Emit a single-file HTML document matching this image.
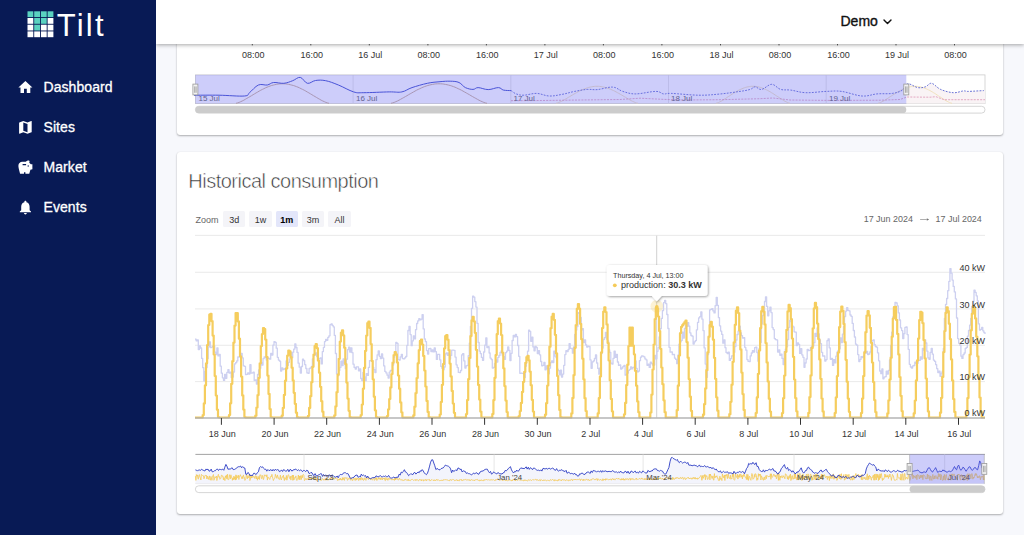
<!DOCTYPE html>
<html lang="en"><head><meta charset="utf-8"><title>Tilt</title>
<style>
*{box-sizing:border-box}
html,body{margin:0;padding:0}
body{width:1024px;height:535px;overflow:hidden;background:#f7f8fc;font-family:"Liberation Sans",sans-serif;position:relative;color:#222}
#sidebar{position:absolute;left:0;top:0;width:156px;height:535px;background:#081a55;color:#fff;z-index:5}
#logo{position:absolute;left:27.4px;top:11.2px}
.nav{position:absolute;left:0;width:156px;height:24px;font-size:14px;line-height:24px}
.nav svg{position:absolute;left:17.2px;top:2.8px;width:16.8px;height:16.8px;fill:#fff}
.nav span{position:absolute;left:43.5px;top:-0.8px;letter-spacing:0.07px;-webkit-text-stroke:0.3px #fff}
#header{position:absolute;left:156px;top:0;width:868px;height:44px;background:#fff;box-shadow:0 1px 4px rgba(0,0,0,.35);z-index:4}
#demo{position:absolute;left:684.5px;top:10px;font-size:14px;line-height:22px;color:#111;-webkit-text-stroke:0.35px #111}
#demo svg{position:absolute;left:42px;top:8.5px}
.card{position:absolute;left:177px;width:826px;background:#fff;border-radius:3px;box-shadow:0 1px 2px rgba(0,0,0,.3),0 0 1px rgba(0,0,0,.1)}
#c1{top:-20px;height:155px}
#c2{top:152px;height:362px}
#title{position:absolute;left:188.3px;top:167.8px;font-size:20px;line-height:26px;letter-spacing:-0.5px;color:#333;-webkit-text-stroke:0.55px #fff;z-index:2}
#ch{position:absolute;left:0;top:0;z-index:2}
#zoom{position:absolute;left:195.5px;top:211px;height:15.5px;font-size:9px;line-height:18.3px;color:#666;z-index:3}
.zb{position:absolute;top:0;width:22.4px;height:15.5px;line-height:18.3px;background:#f4f4f8;border-radius:1.6px;text-align:center;color:#333}
.zb.on{background:#e3e6fa;font-weight:bold;color:#000}
#range{position:absolute;top:213px;left:863.7px;font-size:8.95px;line-height:12px;color:#666;z-index:3;white-space:nowrap}
</style></head>
<body>
<div id="sidebar">
<svg id="logo" width="80" height="30" viewBox="0 0 80 30">
<g fill="#fff">
<rect x="0.5" y="0.3" width="5.8" height="5.8" fill="#5ad2c0"/><rect x="7.2" y="0.3" width="5.8" height="5.8" fill="#5ad2c0"/><rect x="13.9" y="0.3" width="5.8" height="5.8" fill="#5ad2c0"/><rect x="20.6" y="0.3" width="5.8" height="5.8" fill="#5ad2c0"/>
<rect x="0.5" y="7" width="5.8" height="5.8"/><rect x="7.2" y="7" width="5.8" height="5.8" fill="#5ad2c0"/><rect x="13.9" y="7" width="5.8" height="5.8" fill="#5ad2c0"/><rect x="20.6" y="7" width="5.8" height="5.8"/>
<rect x="0.5" y="13.7" width="5.8" height="5.8"/><rect x="7.2" y="13.7" width="5.8" height="5.8" fill="#5ad2c0"/><rect x="13.9" y="13.7" width="5.8" height="5.8"/><rect x="20.6" y="13.7" width="5.8" height="5.8"/>
<rect x="0.5" y="20.4" width="5.8" height="5.8"/><rect x="7.2" y="20.4" width="5.8" height="5.8"/><rect x="13.9" y="20.4" width="5.8" height="5.8"/><rect x="20.6" y="20.4" width="5.8" height="5.8"/>
</g>
<text x="29.8" y="24.7" font-family="Liberation Sans, sans-serif" font-size="31" fill="#fff" letter-spacing="2.2">Tilt</text>
</svg>
<div class="nav" style="top:76px"><svg viewBox="0 0 24 24"><path d="M10 20v-6h4v6h5v-8h3L12 3 2 12h3v8z"/></svg><span>Dashboard</span></div>
<div class="nav" style="top:116px"><svg viewBox="0 0 24 24"><path d="M20.500 3l-.160.030L15 5.100 9 3 3.360 4.900c-.210.070-.360.250-.360.480V20.500c0 .280.220.500.500.500l.160-.030L9 18.900l6 2.100 5.640-1.900c.210-.070.360-.250.360-.480V3.500c0-.280-.220-.500-.500-.500zM15 19l-6-2.110V5l6 2.110V19z"/></svg><span>Sites</span></div>
<div class="nav" style="top:156px"><svg viewBox="0 0 24 24"><path d="M19.830 7.500l-2.270-2.270c.070-.420.180-.810.320-1.150C17.960 3.900 18 3.710 18 3.500 18 2.670 17.330 2 16.500 2c-1.640 0-3.090.790-4 2H7.500C4.460 4 2 6.460 2 9.500S4.500 21 4.500 21H10v-2h2v2h5.500l1.680-5.590L22 14.470V7.500h-2.170zM13 9H8V7h5v2zm3 2c-.550 0-1-.450-1-1s.450-1 1-1 1 .450 1 1-.450 1-1 1z"/></svg><span>Market</span></div>
<div class="nav" style="top:196px"><svg viewBox="0 0 24 24"><path d="M12 22c1.100 0 2-.900 2-2h-4c0 1.100.890 2 2 2zm6-6v-5c0-3.070-1.640-5.640-4.500-6.320V4c0-.830-.670-1.500-1.500-1.500s-1.500.670-1.500 1.500v.680C7.630 5.360 6 7.920 6 11v5l-2 2v1h16v-1l-2-2z"/></svg><span>Events</span></div>
</div>
<div id="header"><div id="demo">Demo<svg width="9" height="6" viewBox="0 0 9 6"><path d="M1 1 4.500 4.600 8 1" fill="none" stroke="#111" stroke-width="1.4" stroke-linecap="round" stroke-linejoin="round"/></svg></div></div>
<div class="card" id="c1"></div>
<div class="card" id="c2"></div>
<div id="title">Historical consumption</div>
<div id="zoom">Zoom<span class="zb" style="left:27.5px">3d</span><span class="zb" style="left:53.8px">1w</span><span class="zb on" style="left:80px">1m</span><span class="zb" style="left:106.4px">3m</span><span class="zb" style="left:132.7px">All</span></div>
<div id="range"><span style="position:absolute;left:0">17 Jun 2024</span><span style="position:absolute;left:53.2px;top:-0.8px;display:inline-block;transform:scaleX(1.7);transform-origin:0 50%">→</span><span style="position:absolute;left:71.9px">17 Jul 2024</span></div>
<svg id="ch" width="1024" height="535" viewBox="0 0 1024 535" font-family="Liberation Sans, sans-serif" font-size="9" fill="#333">
<g><path d="M252.3 40V45.4" stroke="#333" stroke-width="0.8"/><text x="253.2" y="57.6" text-anchor="middle">08:00</text><path d="M310.8 40V45.4" stroke="#333" stroke-width="0.8"/><text x="311.7" y="57.6" text-anchor="middle">16:00</text><path d="M369.3 40V45.4" stroke="#333" stroke-width="0.8"/><text x="370.2" y="57.6" text-anchor="middle">16 Jul</text><path d="M427.9 40V45.4" stroke="#333" stroke-width="0.8"/><text x="428.8" y="57.6" text-anchor="middle">08:00</text><path d="M486.4 40V45.4" stroke="#333" stroke-width="0.8"/><text x="487.3" y="57.6" text-anchor="middle">16:00</text><path d="M544.9 40V45.4" stroke="#333" stroke-width="0.8"/><text x="545.8" y="57.6" text-anchor="middle">17 Jul</text><path d="M603.4 40V45.4" stroke="#333" stroke-width="0.8"/><text x="604.3" y="57.6" text-anchor="middle">08:00</text><path d="M661.9 40V45.4" stroke="#333" stroke-width="0.8"/><text x="662.8" y="57.6" text-anchor="middle">16:00</text><path d="M720.5 40V45.4" stroke="#333" stroke-width="0.8"/><text x="721.4" y="57.6" text-anchor="middle">18 Jul</text><path d="M779.0 40V45.4" stroke="#333" stroke-width="0.8"/><text x="779.9" y="57.6" text-anchor="middle">08:00</text><path d="M837.5 40V45.4" stroke="#333" stroke-width="0.8"/><text x="838.4" y="57.6" text-anchor="middle">16:00</text><path d="M896.0 40V45.4" stroke="#333" stroke-width="0.8"/><text x="896.9" y="57.6" text-anchor="middle">19 Jul</text><path d="M954.5 40V45.4" stroke="#333" stroke-width="0.8"/><text x="955.4" y="57.6" text-anchor="middle">08:00</text></g>
<g>
<rect x="195.4" y="74.9" width="789.6" height="28.7" fill="#fff" stroke="#ccc" stroke-width="0.8"/>
<path d="M906.3 103.6L906.3 84.5L907.6 83.8L917.8 87.6L925.4 86.8L931.7 83.3L940.6 89.4L953.3 92.7L963.5 90.9L968.5 91.4L983.8 90.6L985.0 90.6L985.0 103.6Z" fill="#f9f3f5"/>
<path d="M353.1 75V103.6M510.8 75V103.6M668.5 75V103.6M826.2 75V103.6" stroke="#e0e0e0" stroke-width="0.8"/>
<path d="M236.0 103.3L237.6 102.9L239.1 102.4L240.7 101.7L242.2 101.0L243.8 100.2L245.3 99.3L246.8 98.4L248.4 97.5L249.9 96.6L251.5 95.7L253.1 94.7L254.6 93.8L256.1 92.9L257.7 92.0L259.2 91.1L260.8 90.2L262.4 89.4L263.9 88.7L265.4 87.9L267.0 87.2L268.6 86.6L270.1 86.0L271.6 85.5L273.2 85.1L274.8 84.7L276.3 84.4L277.9 84.1L279.4 83.9L280.9 83.8L282.5 83.8L284.1 83.8L285.6 83.9L287.1 84.1L288.7 84.4L290.2 84.7L291.8 85.1L293.4 85.5L294.9 86.0L296.4 86.6L298.0 87.2L299.6 87.9L301.1 88.7L302.6 89.4L304.2 90.2L305.8 91.1L307.3 92.0L308.9 92.9L310.4 93.8L311.9 94.7L313.5 95.7L315.1 96.6L316.6 97.5L318.1 98.4L319.7 99.3L321.2 100.2L322.8 101.0L324.4 101.7L325.9 102.4L327.4 102.9L329.0 103.3M391.0 103.3L392.6 102.9L394.2 102.4L395.8 101.7L397.4 101.0L399.0 100.2L400.6 99.3L402.2 98.4L403.8 97.5L405.4 96.6L407.0 95.7L408.6 94.7L410.2 93.8L411.8 92.9L413.4 92.0L415.0 91.1L416.6 90.2L418.2 89.4L419.8 88.7L421.4 87.9L423.0 87.2L424.6 86.6L426.2 86.0L427.8 85.5L429.4 85.1L431.0 84.7L432.6 84.4L434.2 84.1L435.8 83.9L437.4 83.8L439.0 83.8L440.6 83.8L442.2 83.9L443.8 84.1L445.4 84.4L447.0 84.7L448.6 85.1L450.2 85.5L451.8 86.0L453.4 86.6L455.0 87.2L456.6 87.9L458.2 88.7L459.8 89.4L461.4 90.2L463.0 91.1L464.6 92.0L466.2 92.9L467.8 93.8L469.4 94.7L471.0 95.7L472.6 96.6L474.2 97.5L475.8 98.4L477.4 99.3L479.0 100.2L480.6 101.0L482.2 101.7L483.8 102.4L485.4 102.9L487.0 103.3" fill="none" stroke="#c2a48a" stroke-width="0.9"/>
<path d="M556.0 103.3L557.4 103.0L558.7 102.5L560.1 101.9L561.5 101.3L562.8 100.6L564.2 99.8L565.6 99.0L566.9 98.3L568.3 97.4L569.7 96.6L571.0 95.8L572.4 95.0L573.8 94.2L575.1 93.4L576.5 92.7L577.9 91.9L579.2 91.2L580.6 90.5L582.0 89.9L583.3 89.3L584.7 88.8L586.1 88.3L587.4 87.8L588.8 87.4L590.2 87.1L591.5 86.8L592.9 86.6L594.3 86.4L595.6 86.3L597.0 86.3L598.4 86.3L599.7 86.4L601.1 86.6L602.5 86.8L603.8 87.1L605.2 87.4L606.6 87.8L607.9 88.3L609.3 88.8L610.7 89.3L612.0 89.9L613.4 90.5L614.8 91.2L616.1 91.9L617.5 92.7L618.9 93.4L620.2 94.2L621.6 95.0L623.0 95.8L624.3 96.6L625.7 97.4L627.1 98.3L628.4 99.0L629.8 99.8L631.2 100.6L632.5 101.3L633.9 101.9L635.3 102.5L636.6 103.0L638.0 103.3M716.0 103.3L717.2 103.0L718.5 102.5L719.7 101.9L720.9 101.3L722.2 100.6L723.4 99.8L724.6 99.0L725.9 98.3L727.1 97.4L728.3 96.6L729.6 95.8L730.8 95.0L732.0 94.2L733.3 93.4L734.5 92.7L735.7 91.9L737.0 91.2L738.2 90.5L739.4 89.9L740.7 89.3L741.9 88.8L743.1 88.3L744.4 87.8L745.6 87.4L746.8 87.1L748.1 86.8L749.3 86.6L750.5 86.4L751.8 86.3L753.0 86.3L754.2 86.3L755.5 86.4L756.7 86.6L757.9 86.8L759.2 87.1L760.4 87.4L761.6 87.8L762.9 88.3L764.1 88.8L765.3 89.3L766.6 89.9L767.8 90.5L769.0 91.2L770.3 91.9L771.5 92.7L772.7 93.4L774.0 94.2L775.2 95.0L776.4 95.8L777.7 96.6L778.9 97.4L780.1 98.3L781.4 99.0L782.6 99.8L783.8 100.6L785.1 101.3L786.3 101.9L787.5 102.5L788.8 103.0L790.0 103.3M878.0 103.3L879.2 103.0L880.5 102.5L881.7 101.9L882.9 101.3L884.2 100.6L885.4 99.8L886.6 99.0L887.9 98.3L889.1 97.4L890.3 96.6L891.6 95.8L892.8 95.0L894.0 94.2L895.3 93.4L896.5 92.7L897.7 91.9L899.0 91.2L900.2 90.5L901.4 89.9L902.7 89.3L903.9 88.8L905.1 88.3L906.4 87.8L907.6 87.4L908.8 87.1L910.1 86.8L911.3 86.6L912.5 86.4L913.8 86.3L915.0 86.3L916.2 86.3L917.5 86.4L918.7 86.6L919.9 86.8L921.2 87.1L922.4 87.4L923.6 87.8L924.9 88.3L926.1 88.8L927.3 89.3L928.6 89.9L929.8 90.5L931.0 91.2L932.3 91.9L933.5 92.7L934.7 93.4L936.0 94.2L937.2 95.0L938.4 95.8L939.7 96.6L940.9 97.4L942.1 98.3L943.4 99.0L944.6 99.8L945.8 100.6L947.1 101.3L948.3 101.9L949.5 102.5L950.8 103.0L952.0 103.3" fill="none" stroke="#efe0b8" stroke-width="0.9"/>
<path d="M511.0 100.7L540.0 100.5L580.0 100.0L620.0 99.5L640.0 98.2L660.0 99.2L680.0 100.0L720.0 99.7L760.0 98.7L773.0 98.0L790.0 100.0L830.0 100.4L880.0 100.2L900.0 99.5L907.0 97.0L930.0 97.2L936.0 96.7L944.0 99.7L985.0 99.7" fill="none" stroke="#d886ac" stroke-width="0.7" stroke-dasharray="2 1.2"/>
<path d="M195.4 95.2C195.5 95.2 192.0 95.2 196.2 95.2C200.4 95.2 210.3 95.1 219.0 95.2C227.7 95.3 238.9 96.5 244.4 96.0C249.9 95.5 247.0 94.7 249.5 92.7C252.0 90.7 255.2 86.4 258.4 85.0C261.6 83.6 264.6 85.5 267.3 85.0C270.0 84.5 270.6 82.8 273.6 82.5C276.6 82.2 280.4 83.6 283.8 83.3C287.2 83.0 289.7 81.8 292.7 80.7C295.7 79.6 297.7 76.9 300.3 77.4C302.9 77.9 304.7 82.7 307.4 83.3C310.1 83.9 312.2 81.0 315.5 80.5C318.8 80.0 321.6 79.9 325.7 80.7C329.8 81.5 333.4 83.0 338.4 85.0C343.4 87.0 349.0 90.5 353.6 91.9C358.2 93.3 357.4 92.7 363.8 92.7C370.2 92.7 382.3 92.0 389.2 91.9C396.1 91.8 397.8 92.7 401.9 91.9C406.0 91.1 407.4 89.1 412.0 87.6C416.6 86.1 422.3 84.4 427.3 83.3C432.3 82.2 435.9 82.1 440.0 81.7C444.1 81.3 446.8 81.1 450.2 81.2C453.6 81.3 456.3 81.3 459.0 82.5C461.7 83.7 462.9 86.4 465.4 87.6C467.9 88.8 470.7 89.4 473.0 89.4C475.3 89.4 475.4 87.6 478.1 87.6C480.8 87.6 484.5 89.6 488.2 89.6C491.9 89.6 495.6 87.5 498.4 87.6C501.2 87.7 501.2 89.6 503.5 90.1C505.8 90.6 509.7 90.5 511.1 90.6" fill="none" stroke="#3b4acb" stroke-width="1"/>
<path d="M511.1 90.6C512.0 91.2 513.9 93.1 516.2 93.9C518.5 94.7 520.1 95.3 523.8 95.2C527.5 95.1 531.9 93.3 536.5 93.4C541.1 93.5 544.6 95.8 549.2 96.0C553.8 96.2 557.3 95.2 561.9 94.4C566.5 93.6 570.0 92.3 574.6 91.4C579.2 90.5 583.2 89.7 587.3 89.4C591.4 89.1 592.8 90.0 597.4 89.6C602.0 89.2 608.1 86.8 612.7 87.1C617.3 87.4 618.7 90.2 622.8 91.4C626.9 92.6 629.6 93.9 635.5 93.9C641.4 93.9 650.8 91.4 655.8 91.4C660.8 91.4 660.7 93.5 663.5 93.9C666.3 94.3 664.7 93.2 671.1 93.4C677.5 93.6 690.2 95.1 699.0 95.2C707.8 95.3 712.6 94.7 720.0 94.0C727.4 93.3 734.6 92.2 740.0 91.4C745.4 90.6 747.5 90.2 750.2 89.4C752.9 88.6 753.1 86.8 755.2 86.8C757.3 86.8 758.6 89.9 761.6 89.4C764.6 89.0 768.3 84.3 771.7 84.3C775.1 84.3 777.2 88.4 780.6 89.4C784.0 90.4 786.2 89.5 790.8 90.1C795.4 90.7 799.6 92.5 806.0 92.7C812.4 92.9 819.9 91.6 826.3 91.4C832.7 91.2 835.2 90.6 841.6 91.4C848.0 92.2 855.5 95.5 861.9 96.0C868.3 96.5 871.6 94.4 877.1 93.9C882.6 93.4 887.8 94.1 892.4 93.4C897.0 92.7 899.8 91.8 902.5 90.1C905.2 88.4 904.8 84.2 907.6 83.8C910.4 83.3 914.6 87.1 917.8 87.6C921.0 88.1 922.9 87.6 925.4 86.8C927.9 86.0 929.0 82.8 931.7 83.3C934.4 83.8 936.7 87.7 940.6 89.4C944.5 91.1 949.2 92.4 953.3 92.7C957.4 93.0 960.8 91.1 963.5 90.9C966.2 90.7 964.8 91.5 968.5 91.4C972.2 91.3 981.0 90.7 983.8 90.6" fill="none" stroke="#3b4acb" stroke-width="0.85" stroke-dasharray="1.8 1.3" opacity="0.9"/>
<g font-size="8" fill="#5c5c5c"><text x="198.5" y="100.8">15 Jul</text><text x="356" y="100.8">16 Jul</text><text x="513.5" y="100.8">17 Jul</text><text x="671" y="100.8">18 Jul</text><text x="829" y="100.8">19 Jul</text></g>
<rect x="195.4" y="74.9" width="710.9" height="28.7" fill="rgba(102,102,240,0.33)"/>
<rect x="192.9" y="84.1" width="5" height="10.8" fill="#f2f2f2" stroke="#999" stroke-width="0.8"/><path d="M194.7 86.4v6.4M196.1 86.4v6.4" stroke="#888" stroke-width="0.7"/><rect x="903.8" y="84.1" width="5" height="10.8" fill="#f2f2f2" stroke="#999" stroke-width="0.8"/><path d="M905.6 86.4v6.4M907.0 86.4v6.4" stroke="#888" stroke-width="0.7"/>
<rect x="195.4" y="106.3" width="789.6" height="6.8" rx="3.4" fill="#fff" stroke="#ccc" stroke-width="0.8"/>
<rect x="195.4" y="106.3" width="710.9" height="6.8" rx="3.4" fill="#ccc"/>
</g>
<g>
<path d="M195 235.4H985" stroke="#e4e4e4" stroke-width="0.8"/><path d="M195 272.3H985" stroke="#e4e4e4" stroke-width="0.8"/><path d="M195 308.9H985" stroke="#e4e4e4" stroke-width="0.8"/><path d="M195 345.3H985" stroke="#e4e4e4" stroke-width="0.8"/><path d="M195 381.6H985" stroke="#e4e4e4" stroke-width="0.8"/>
<path d="M656.7 235.7V417.5" stroke="#c4c4c4" stroke-width="0.8"/>
<path d="M195.0 339.2H196.1V340.8H197.2V339.9H198.3V349.5H199.4V346.0H200.5V348.0H201.6V358.4H202.7V367.7H203.8V380.8H204.9V371.4H206.0V367.6H207.1V358.7H208.2V346.9H209.3V341.8H210.4V347.5H211.5V347.1H212.6V346.1H213.7V345.8H214.7V352.1H215.8V354.6H216.9V348.0H218.0V355.9H219.1V354.5H220.2V366.2H221.3V373.2H222.4V377.8H223.5V380.4H224.6V374.5H225.7V378.3H226.8V372.4H227.9V369.7H229.0V373.0H230.1V372.1H231.2V377.5H232.3V377.0H233.4V372.0H234.5V363.9H235.6V362.7H236.7V360.9H237.8V357.0H238.9V356.8H240.0V356.8H241.1V353.4H242.2V357.9H243.3V365.8H244.4V366.3H245.5V374.5H246.6V374.3H247.7V372.8H248.8V374.1H249.9V364.7H251.0V373.2H252.1V372.9H253.2V372.2H254.2V380.4H255.3V379.8H256.4V384.1H257.5V374.5H258.6V370.0H259.7V368.2H260.8V362.5H261.9V365.0H263.0V358.7H264.1V357.0H265.2V357.5H266.3V360.1H267.4V357.9H268.5V358.3H269.6V359.2H270.7V353.4H271.8V355.1H272.9V345.1H274.0V341.6H275.1V342.4H276.2V348.2H277.3V357.3H278.4V360.1H279.5V361.2H280.6V371.1H281.7V367.8H282.8V369.5H283.9V369.0H285.0V368.5H286.1V360.8H287.2V365.4H288.3V362.3H289.4V358.9H290.5V352.3H291.6V357.7H292.7V352.2H293.7V349.2H294.8V344.0H295.9V347.5H297.0V352.4H298.1V363.2H299.2V367.2H300.3V373.0H301.4V366.5H302.5V359.2H303.6V360.6H304.7V364.7H305.8V368.5H306.9V372.9H308.0V373.3H309.1V368.5H310.2V367.8H311.3V366.5H312.4V358.8H313.5V355.5H314.6V355.0H315.7V352.8H316.8V356.7H317.9V359.6H319.0V358.6H320.1V358.0H321.2V363.9H322.3V351.6H323.4V347.3H324.5V341.6H325.6V339.4H326.7V340.3H327.8V337.3H328.9V335.8H330.0V324.7H331.1V323.9H332.2V325.4H333.2V326.8H334.3V335.4H335.4V353.5H336.5V373.9H337.6V375.8H338.7V370.6H339.8V367.4H340.9V361.2H342.0V365.6H343.1V359.0H344.2V363.0H345.3V368.7H346.4V359.2H347.5V349.7H348.6V347.2H349.7V352.1H350.8V347.8H351.9V352.7H353.0V364.2H354.1V367.4H355.2V369.1H356.3V366.8H357.4V366.8H358.5V370.8H359.6V368.8H360.7V378.5H361.8V380.5H362.9V372.4H364.0V377.0H365.1V380.7H366.2V373.7H367.3V375.4H368.4V367.4H369.5V360.6H370.6V360.6H371.7V361.0H372.7V367.4H373.8V369.7H374.9V372.5H376.0V359.7H377.1V354.8H378.2V350.9H379.3V356.3H380.4V358.5H381.5V354.0H382.6V358.1H383.7V365.9H384.8V371.4H385.9V372.9H387.0V375.2H388.1V378.1H389.2V372.1H390.3V370.4H391.4V370.3H392.5V365.0H393.6V357.1H394.7V351.8H395.8V342.3H396.9V343.3H398.0V359.6H399.1V360.1H400.2V356.8H401.3V354.3H402.4V358.6H403.5V358.9H404.6V357.8H405.7V356.5H406.8V345.4H407.9V330.5H409.0V326.4H410.1V334.6H411.2V345.7H412.2V340.9H413.3V335.8H414.4V338.9H415.5V329.7H416.6V323.5H417.7V320.9H418.8V318.7H419.9V319.9H421.0V319.1H422.1V314.6H423.2V328.9H424.3V339.0H425.4V341.7H426.5V350.6H427.6V354.0H428.7V348.6H429.8V348.5H430.9V351.6H432.0V349.8H433.1V351.9H434.2V348.0H435.3V351.7H436.4V359.4H437.5V354.4H438.6V354.4H439.7V359.8H440.8V366.4H441.9V368.3H443.0V369.8H444.1V367.0H445.2V353.9H446.3V353.0H447.4V355.4H448.5V353.0H449.6V359.1H450.6V355.4H451.7V350.1H452.8V350.1H453.9V350.3H455.0V357.1H456.1V364.8H457.2V367.6H458.3V372.4H459.4V372.6H460.5V370.5H461.6V354.8H462.7V353.6H463.8V360.9H464.9V368.0H466.0V365.8H467.1V365.4H468.2V355.7H469.3V343.1H470.4V326.3H471.5V308.3H472.6V296.2H473.7V297.2H474.8V301.7H475.9V307.1H477.0V323.3H478.1V342.5H479.2V351.1H480.3V353.6H481.4V357.4H482.5V360.3H483.6V352.0H484.7V345.1H485.8V337.9H486.9V347.6H488.0V346.7H489.1V353.0H490.1V358.1H491.2V359.5H492.3V368.0H493.4V367.4H494.5V363.4H495.6V360.0H496.7V362.0H497.8V357.4H498.9V355.5H500.0V352.5H501.1V350.8H502.2V355.2H503.3V356.6H504.4V359.3H505.5V352.7H506.6V351.1H507.7V347.0H508.8V350.3H509.9V360.6H511.0V353.3H512.1V340.5H513.2V335.5H514.3V336.9H515.4V334.5H516.5V336.7H517.6V345.5H518.7V356.3H519.8V373.3H520.9V373.2H522.0V373.4H523.1V373.6H524.2V377.5H525.3V366.2H526.4V360.4H527.5V351.2H528.6V330.2H529.6V331.4H530.7V341.3H531.8V337.1H532.9V346.9H534.0V350.8H535.1V346.4H536.2V347.5H537.3V353.5H538.4V350.7H539.5V354.8H540.6V361.5H541.7V365.8H542.8V365.4H543.9V362.4H545.0V369.8H546.1V366.0H547.2V368.7H548.3V373.8H549.4V368.2H550.5V362.7H551.6V361.0H552.7V362.6H553.8V351.2H554.9V356.2H556.0V357.7H557.1V369.1H558.2V370.6H559.3V374.9H560.4V370.1H561.5V377.0H562.6V374.1H563.7V365.3H564.8V354.6H565.9V350.7H567.0V351.6H568.1V349.5H569.1V343.6H570.2V348.3H571.3V348.5H572.4V353.2H573.5V346.9H574.6V334.4H575.7V330.1H576.8V326.6H577.9V312.7H579.0V313.3H580.1V317.4H581.2V329.8H582.3V328.7H583.4V342.5H584.5V339.9H585.6V344.9H586.7V347.1H587.8V346.2H588.9V346.5H590.0V359.9H591.1V368.3H592.2V361.9H593.3V360.9H594.4V358.5H595.5V355.0H596.6V363.0H597.7V368.4H598.8V374.2H599.9V367.8H601.0V353.6H602.1V348.0H603.2V339.5H604.3V337.6H605.4V332.3H606.5V339.2H607.6V340.9H608.6V350.0H609.7V352.3H610.8V363.1H611.9V364.1H613.0V358.4H614.1V351.1H615.2V357.3H616.3V354.5H617.4V362.0H618.5V365.4H619.6V364.9H620.7V369.1H621.8V368.0H622.9V366.3H624.0V365.3H625.1V375.2H626.2V374.4H627.3V373.0H628.4V370.4H629.5V369.4H630.6V366.9H631.7V368.9H632.8V367.4H633.9V367.2H635.0V361.0H636.1V368.3H637.2V371.9H638.3V371.1H639.4V360.7H640.5V357.2H641.6V355.8H642.7V356.2H643.8V356.8H644.9V358.9H646.0V359.8H647.0V365.3H648.1V364.2H649.2V367.4H650.3V362.2H651.4V363.5H652.5V365.0H653.6V365.1H654.7V355.5H655.8V358.8H656.9V351.3H658.0V347.6H659.1V337.0H660.2V328.7H661.3V318.4H662.4V310.7H663.5V302.7H664.6V300.4H665.7V303.7H666.8V314.5H667.9V328.5H669.0V347.3H670.1V352.2H671.2V351.8H672.3V354.7H673.4V354.4H674.5V358.2H675.6V359.4H676.7V363.7H677.8V355.2H678.9V344.2H680.0V341.9H681.1V340.4H682.2V332.2H683.3V338.0H684.4V328.4H685.5V325.0H686.5V326.4H687.6V322.6H688.7V326.2H689.8V332.8H690.9V335.5H692.0V336.2H693.1V344.0H694.2V341.8H695.3V340.6H696.4V329.8H697.5V322.4H698.6V317.9H699.7V316.7H700.8V311.9H701.9V319.2H703.0V330.6H704.1V347.9H705.2V364.1H706.3V377.3H707.4V354.7H708.5V336.5H709.6V309.8H710.7V309.3H711.8V308.6H712.9V310.9H714.0V312.9H715.1V305.7H716.2V297.4H717.3V305.3H718.4V317.7H719.5V325.8H720.6V331.1H721.7V334.4H722.8V343.2H723.9V340.0H725.0V347.7H726.0V352.4H727.1V353.6H728.2V352.2H729.3V360.4H730.4V358.7H731.5V355.9H732.6V355.8H733.7V352.2H734.8V346.6H735.9V340.0H737.0V334.5H738.1V331.1H739.2V326.1H740.3V332.8H741.4V335.6H742.5V338.0H743.6V337.7H744.7V347.3H745.8V350.2H746.9V359.6H748.0V361.3H749.1V361.5H750.2V355.9H751.3V353.0H752.4V350.6H753.5V352.0H754.6V347.6H755.7V347.1H756.8V352.5H757.9V361.2H759.0V348.4H760.1V342.5H761.2V324.1H762.3V315.7H763.4V310.6H764.5V301.5H765.5V296.8H766.6V306.4H767.7V315.8H768.8V310.8H769.9V307.1H771.0V312.6H772.1V327.6H773.2V329.6H774.3V338.6H775.4V339.7H776.5V339.9H777.6V352.0H778.7V349.8H779.8V355.3H780.9V354.2H782.0V358.4H783.1V364.5H784.2V351.7H785.3V349.1H786.4V346.8H787.5V339.5H788.6V327.3H789.7V320.2H790.8V321.5H791.9V325.9H793.0V326.9H794.1V331.8H795.2V332.2H796.3V345.6H797.4V342.8H798.5V344.3H799.6V353.4H800.7V348.7H801.8V354.9H802.9V357.3H804.0V367.3H805.0V363.0H806.1V359.0H807.2V349.3H808.3V350.5H809.4V350.4H810.5V347.5H811.6V346.5H812.7V345.9H813.8V342.7H814.9V333.3H816.0V336.3H817.1V327.9H818.2V333.8H819.3V339.8H820.4V343.6H821.5V352.3H822.6V356.0H823.7V355.8H824.8V361.1H825.9V359.6H827.0V340.6H828.1V338.8H829.2V347.8H830.3V359.3H831.4V358.4H832.5V365.4H833.6V359.6H834.7V362.9H835.8V356.2H836.9V352.1H838.0V350.4H839.1V348.8H840.2V337.8H841.3V342.6H842.4V334.1H843.5V326.5H844.5V316.5H845.6V311.1H846.7V307.6H847.8V310.4H848.9V310.8H850.0V315.0H851.1V316.4H852.2V323.4H853.3V330.5H854.4V337.0H855.5V344.2H856.6V345.2H857.7V354.6H858.8V361.6H859.9V359.4H861.0V356.6H862.1V357.5H863.2V356.1H864.3V351.4H865.4V353.1H866.5V351.5H867.6V354.6H868.7V354.0H869.8V352.0H870.9V346.3H872.0V340.6H873.1V339.8H874.2V344.7H875.3V346.5H876.4V347.2H877.5V352.8H878.6V360.8H879.7V371.0H880.8V373.7H881.9V369.0H882.9V378.8H884.0V377.1H885.1V376.7H886.2V371.2H887.3V374.1H888.4V370.3H889.5V359.9H890.6V345.5H891.7V332.1H892.8V316.9H893.9V308.8H895.0V302.3H896.1V303.0H897.2V305.9H898.3V312.8H899.4V320.0H900.5V327.8H901.6V330.6H902.7V338.6H903.8V333.7H904.9V327.4H906.0V327.0H907.1V334.6H908.2V349.3H909.3V364.3H910.4V367.0H911.5V368.0H912.6V365.9H913.7V365.5H914.8V362.2H915.9V363.4H917.0V363.3H918.1V360.1H919.2V360.4H920.3V356.9H921.4V359.1H922.4V348.4H923.5V350.0H924.6V339.8H925.7V343.0H926.8V351.2H927.9V357.9H929.0V359.3H930.1V352.4H931.2V348.5H932.3V354.2H933.4V360.1H934.5V361.3H935.6V364.7H936.7V368.7H937.8V372.5H938.9V371.1H940.0V376.3H941.1V373.1H942.2V371.2H943.3V348.4H944.4V318.4H945.5V304.4H946.6V298.5H947.7V290.7H948.8V281.4H949.9V268.6H951.0V273.2H952.1V280.1H953.2V286.4H954.3V291.9H955.4V298.9H956.5V318.0H957.6V338.6H958.7V343.3H959.8V345.2H960.9V356.2H961.9V358.4H963.0V354.7H964.1V353.0H965.2V348.3H966.3V347.4H967.4V336.2H968.5V330.5H969.6V325.1H970.7V318.3H971.8V306.4H972.9V301.2H974.0V290.1H975.1V292.4H976.2V295.8H977.3V300.9H978.4V323.9H979.5V330.1H980.6V329.4H981.7V327.4H982.8V330.8H983.9V332.7H985.0V334.1H985.0" fill="none" stroke="#cdd0f0" stroke-width="1.3" stroke-linejoin="round"/>
<path d="M195.0 417.5H196.1V417.5H197.2V417.5H198.3V417.5H199.4V417.5H200.5V417.5H201.6V417.5H202.7V415.1H203.8V403.4H204.9V385.3H206.0V363.3H207.1V345.1H208.2V325.0H209.3V314.7H210.4V313.8H211.5V321.2H212.6V335.6H213.7V354.5H214.7V376.0H215.8V395.5H216.9V409.7H218.0V417.0H219.1V417.5H220.2V417.5H221.3V417.5H222.4V417.5H223.5V417.5H224.6V417.5H225.7V417.5H226.8V417.5H227.9V417.5H229.0V415.0H230.1V403.3H231.2V383.8H232.3V361.2H233.4V342.6H234.5V325.6H235.6V313.0H236.7V313.2H237.8V321.4H238.9V338.7H240.0V356.3H241.1V376.6H242.2V395.4H243.3V409.6H244.4V417.0H245.5V417.5H246.6V417.5H247.7V417.5H248.8V417.5H249.9V417.5H251.0V417.5H252.1V417.5H253.2V417.5H254.2V417.5H255.3V415.7H256.4V407.5H257.5V395.1H258.6V377.8H259.7V363.3H260.8V346.1H261.9V334.0H263.0V328.2H264.1V329.0H265.2V339.6H266.3V356.8H267.4V375.6H268.5V393.9H269.6V409.0H270.7V417.0H271.8V417.5H272.9V417.5H274.0V417.5H275.1V417.5H276.2V417.5H277.3V417.5H278.4V417.5H279.5V417.5H280.6V417.5H281.7V415.7H282.8V407.9H283.9V394.9H285.0V380.7H286.1V368.4H287.2V355.6H288.3V350.5H289.4V351.4H290.5V357.2H291.6V367.7H292.7V380.4H293.7V392.8H294.8V403.8H295.9V412.7H297.0V417.2H298.1V417.5H299.2V417.5H300.3V417.5H301.4V417.5H302.5V417.5H303.6V417.5H304.7V417.5H305.8V417.5H306.9V417.5H308.0V415.8H309.1V407.9H310.2V396.2H311.3V382.2H312.4V366.8H313.5V354.6H314.6V346.1H315.7V344.1H316.8V348.2H317.9V360.6H319.0V372.7H320.1V386.8H321.2V401.2H322.3V411.7H323.4V417.2H324.5V417.5H325.6V417.5H326.7V417.5H327.8V417.5H328.9V417.5H330.0V417.5H331.1V417.5H332.2V417.5H333.2V417.5H334.3V415.3H335.4V406.3H336.5V392.2H337.6V374.7H338.7V358.8H339.8V341.6H340.9V332.5H342.0V330.4H343.1V335.4H344.2V347.7H345.3V364.2H346.4V382.6H347.5V398.6H348.6V410.8H349.7V417.1H350.8V417.5H351.9V417.5H353.0V417.5H354.1V417.5H355.2V417.5H356.3V417.5H357.4V417.5H358.5V417.5H359.6V417.5H360.7V415.0H361.8V404.5H362.9V388.7H364.0V367.9H365.1V350.8H366.2V335.5H367.3V323.0H368.4V321.5H369.5V327.9H370.6V344.0H371.7V360.9H372.7V379.3H373.8V396.7H374.9V410.3H376.0V417.1H377.1V417.5H378.2V417.5H379.3V417.5H380.4V417.5H381.5V417.5H382.6V417.5H383.7V417.5H384.8V417.5H385.9V417.5H387.0V416.0H388.1V409.3H389.2V399.0H390.3V387.4H391.4V374.0H392.5V362.7H393.6V355.0H394.7V352.0H395.8V354.4H396.9V362.4H398.0V375.5H399.1V388.7H400.2V402.4H401.3V412.3H402.4V417.3H403.5V417.5H404.6V417.5H405.7V417.5H406.8V417.5H407.9V417.5H409.0V417.5H410.1V417.5H411.2V417.5H412.2V417.5H413.3V415.4H414.4V406.7H415.5V393.1H416.6V378.0H417.7V363.3H418.8V350.1H419.9V340.9H421.0V339.6H422.1V344.6H423.2V355.9H424.3V370.5H425.4V386.5H426.5V400.9H427.6V411.9H428.7V417.2H429.8V417.5H430.9V417.5H432.0V417.5H433.1V417.5H434.2V417.5H435.3V417.5H436.4V417.5H437.5V417.5H438.6V417.5H439.7V414.5H440.8V402.0H441.9V384.8H443.0V364.1H444.1V348.3H445.2V336.2H446.3V335.1H447.4V339.7H448.5V350.2H449.6V363.6H450.6V376.4H451.7V390.9H452.8V403.5H453.9V412.8H455.0V417.3H456.1V417.5H457.2V417.5H458.3V417.5H459.4V417.5H460.5V417.5H461.6V417.5H462.7V417.5H463.8V417.5H464.9V417.5H466.0V414.0H467.1V400.0H468.2V379.2H469.3V357.9H470.4V336.1H471.5V320.4H472.6V316.8H473.7V321.3H474.8V332.8H475.9V349.8H477.0V366.6H478.1V384.9H479.2V399.6H480.3V411.6H481.4V417.3H482.5V417.5H483.6V417.5H484.7V417.5H485.8V417.5H486.9V417.5H488.0V417.5H489.1V417.5H490.1V417.5H491.2V417.5H492.3V414.0H493.4V400.1H494.5V377.8H495.6V355.0H496.7V334.2H497.8V321.0H498.9V318.5H500.0V323.5H501.1V335.0H502.2V352.6H503.3V368.3H504.4V386.1H505.5V400.6H506.6V412.0H507.7V417.3H508.8V417.5H509.9V417.5H511.0V417.5H512.1V417.5H513.2V417.5H514.3V417.5H515.4V417.5H516.5V417.5H517.6V417.5H518.7V416.2H519.8V411.0H520.9V402.9H522.0V391.9H523.1V381.8H524.2V371.9H525.3V362.8H526.4V357.1H527.5V355.8H528.6V360.3H529.6V371.6H530.7V385.2H531.8V399.8H532.9V411.5H534.0V417.3H535.1V417.5H536.2V417.5H537.3V417.5H538.4V417.5H539.5V417.5H540.6V417.5H541.7V417.5H542.8V417.5H543.9V417.5H545.0V414.7H546.1V403.2H547.2V385.5H548.3V365.6H549.4V346.7H550.5V328.2H551.6V316.7H552.7V313.9H553.8V319.8H554.9V334.8H556.0V353.4H557.1V376.0H558.2V395.2H559.3V409.9H560.4V417.2H561.5V417.5H562.6V417.5H563.7V417.5H564.8V417.5H565.9V417.5H567.0V417.5H568.1V417.5H569.1V417.5H570.2V417.5H571.3V413.4H572.4V397.9H573.5V375.1H574.6V347.8H575.7V325.0H576.8V308.7H577.9V304.1H579.0V308.7H580.1V323.8H581.2V339.2H582.3V358.7H583.4V379.3H584.5V398.2H585.6V411.0H586.7V417.3H587.8V417.5H588.9V417.5H590.0V417.5H591.1V417.5H592.2V417.5H593.3V417.5H594.4V417.5H595.5V417.5H596.6V417.5H597.7V413.4H598.8V398.1H599.9V376.4H601.0V352.4H602.1V328.0H603.2V311.5H604.3V307.3H605.4V312.0H606.5V324.4H607.6V343.0H608.6V360.5H609.7V380.2H610.8V398.9H611.9V411.3H613.0V417.3H614.1V417.5H615.2V417.5H616.3V417.5H617.4V417.5H618.5V417.5H619.6V417.5H620.7V417.5H621.8V417.5H622.9V417.5H624.0V414.3H625.1V402.9H626.2V385.1H627.3V364.7H628.4V346.0H629.5V327.6H630.6V345.6H631.7V327.6H632.8V345.6H633.9V354.3H635.0V370.8H636.1V385.7H637.2V401.4H638.3V412.2H639.4V417.3H640.5V417.5H641.6V417.5H642.7V417.5H643.8V417.5H644.9V417.5H646.0V417.5H647.0V417.5H648.1V417.5H649.2V417.5H650.3V412.5H651.4V394.6H652.5V369.5H653.6V344.5H654.7V319.0H655.8V307.8H656.9V308.4H658.0V316.5H659.1V331.1H660.2V348.8H661.3V367.5H662.4V384.2H663.5V400.3H664.6V412.2H665.7V417.4H666.8V417.5H667.9V417.5H669.0V417.5H670.1V417.5H671.2V417.5H672.3V417.5H673.4V417.5H674.5V417.5H675.6V417.5H676.7V410.2H677.8V385.7H678.9V355.5H680.0V333.0H681.1V326.8H682.2V325.2H683.3V323.7H684.4V322.2H685.5V320.6H686.5V342.1H687.6V357.7H688.7V379.1H689.8V396.7H690.9V410.8H692.0V417.3H693.1V417.5H694.2V417.5H695.3V417.5H696.4V417.5H697.5V417.5H698.6V417.5H699.7V417.5H700.8V417.5H701.9V417.5H703.0V414.7H704.1V404.2H705.2V388.4H706.3V370.2H707.4V352.4H708.5V336.7H709.6V325.0H710.7V321.8H711.8V326.7H712.9V339.7H714.0V357.8H715.1V378.8H716.2V397.3H717.3V410.7H718.4V417.3H719.5V417.5H720.6V417.5H721.7V417.5H722.8V417.5H723.9V417.5H725.0V417.5H726.0V417.5H727.1V417.5H728.2V417.5H729.3V414.2H730.4V401.8H731.5V384.7H732.6V361.8H733.7V342.3H734.8V324.8H735.9V310.6H737.0V307.3H738.1V313.1H739.2V330.5H740.3V349.4H741.4V372.6H742.5V394.1H743.6V409.9H744.7V417.3H745.8V417.5H746.9V417.5H748.0V417.5H749.1V417.5H750.2V417.5H751.3V417.5H752.4V417.5H753.5V417.5H754.6V417.5H755.7V413.0H756.8V397.4H757.9V373.8H759.0V350.4H760.1V328.1H761.2V311.0H762.3V306.9H763.4V311.7H764.5V324.4H765.5V343.1H766.6V362.4H767.7V381.4H768.8V398.7H769.9V411.6H771.0V417.4H772.1V417.5H773.2V417.5H774.3V417.5H775.4V417.5H776.5V417.5H777.6V417.5H778.7V417.5H779.8V417.5H780.9V417.5H782.0V413.1H783.1V398.2H784.2V375.5H785.3V351.8H786.4V329.8H787.5V311.4H788.6V304.9H789.7V308.1H790.8V319.1H791.9V338.5H793.0V356.8H794.1V379.5H795.2V398.0H796.3V411.3H797.4V417.4H798.5V417.5H799.6V417.5H800.7V417.5H801.8V417.5H802.9V417.5H804.0V417.5H805.0V417.5H806.1V417.5H807.2V417.5H808.3V412.9H809.4V397.1H810.5V375.4H811.6V347.9H812.7V328.3H813.8V308.4H814.9V302.9H816.0V307.1H817.1V323.6H818.2V339.1H819.3V359.4H820.4V378.8H821.5V398.5H822.6V411.4H823.7V417.4H824.8V417.5H825.9V417.5H827.0V417.5H828.1V417.5H829.2V417.5H830.3V417.5H831.4V417.5H832.5V417.5H833.6V417.5H834.7V413.0H835.8V397.3H836.9V376.0H838.0V352.4H839.1V327.1H840.2V311.6H841.3V306.6H842.4V310.8H843.5V323.9H844.5V342.1H845.6V359.8H846.7V381.7H847.8V398.6H848.9V411.8H850.0V417.4H851.1V417.5H852.2V417.5H853.3V417.5H854.4V417.5H855.5V417.5H856.6V417.5H857.7V417.5H858.8V417.5H859.9V417.5H861.0V413.0H862.1V398.6H863.2V376.0H864.3V352.3H865.4V332.2H866.5V315.6H867.6V311.0H868.7V315.3H869.8V327.8H870.9V342.8H872.0V362.5H873.1V382.1H874.2V400.1H875.3V412.1H876.4V417.4H877.5V417.5H878.6V417.5H879.7V417.5H880.8V417.5H881.9V417.5H882.9V417.5H884.0V417.5H885.1V417.5H886.2V417.5H887.3V413.4H888.4V400.3H889.5V379.5H890.6V357.7H891.7V336.7H892.8V318.6H893.9V307.2H895.0V306.9H896.1V319.9H897.2V333.9H898.3V354.4H899.4V377.0H900.5V395.8H901.6V411.1H902.7V417.4H903.8V417.5H904.9V417.5H906.0V417.5H907.1V417.5H908.2V417.5H909.3V417.5H910.4V417.5H911.5V417.5H912.6V417.5H913.7V413.4H914.8V400.5H915.9V380.4H917.0V360.4H918.1V338.6H919.2V320.1H920.3V311.8H921.4V312.5H922.4V323.1H923.5V340.1H924.6V358.3H925.7V378.5H926.8V398.1H927.9V411.4H929.0V417.4H930.1V417.5H931.2V417.5H932.3V417.5H933.4V417.5H934.5V417.5H935.6V417.5H936.7V417.5H937.8V417.5H938.9V417.5H940.0V412.7H941.1V397.8H942.2V376.9H943.3V352.1H944.4V331.0H945.5V312.8H946.6V307.3H947.7V311.1H948.8V323.7H949.9V339.1H951.0V359.4H952.1V380.4H953.2V399.1H954.3V411.9H955.4V417.4H956.5V417.5H957.6V417.5H958.7V417.5H959.8V417.5H960.9V417.5H961.9V417.5H963.0V417.5H964.1V417.5H965.2V417.5H966.3V413.0H967.4V398.1H968.5V377.0H969.6V354.6H970.7V330.3H971.8V313.8H972.9V306.2H974.0V308.3H975.1V318.4H976.2V336.6H977.3V356.3H978.4V378.5H979.5V397.5H980.6V411.6H981.7V417.4H982.8V417.5H983.9V417.5H985.0V417.5H985.0" fill="none" stroke="#f5cd5e" stroke-width="2.2" stroke-linejoin="round"/>
<path d="M195 417.9H985" stroke="#adadad" stroke-width="1.5" opacity="0.9"/>
<circle cx="656.8" cy="306.2" r="6.3" fill="#f5cb58" opacity="0.25"/>
<circle cx="656.8" cy="306.8" r="1.8" fill="#f5cb58"/>
<path d="M221.4 418V424.8" stroke="#333" stroke-width="1"/><text x="222.2" y="436.9" text-anchor="middle">18 Jun</text><path d="M274.1 418V424.8" stroke="#333" stroke-width="1"/><text x="274.9" y="436.9" text-anchor="middle">20 Jun</text><path d="M326.7 418V424.8" stroke="#333" stroke-width="1"/><text x="327.5" y="436.9" text-anchor="middle">22 Jun</text><path d="M379.4 418V424.8" stroke="#333" stroke-width="1"/><text x="380.2" y="436.9" text-anchor="middle">24 Jun</text><path d="M432.0 418V424.8" stroke="#333" stroke-width="1"/><text x="432.8" y="436.9" text-anchor="middle">26 Jun</text><path d="M484.6 418V424.8" stroke="#333" stroke-width="1"/><text x="485.4" y="436.9" text-anchor="middle">28 Jun</text><path d="M537.3 418V424.8" stroke="#333" stroke-width="1"/><text x="538.1" y="436.9" text-anchor="middle">30 Jun</text><path d="M590.0 418V424.8" stroke="#333" stroke-width="1"/><text x="590.8" y="436.9" text-anchor="middle">2 Jul</text><path d="M642.6 418V424.8" stroke="#333" stroke-width="1"/><text x="643.4" y="436.9" text-anchor="middle">4 Jul</text><path d="M695.2 418V424.8" stroke="#333" stroke-width="1"/><text x="696.0" y="436.9" text-anchor="middle">6 Jul</text><path d="M747.9 418V424.8" stroke="#333" stroke-width="1"/><text x="748.7" y="436.9" text-anchor="middle">8 Jul</text><path d="M800.5 418V424.8" stroke="#333" stroke-width="1"/><text x="801.3" y="436.9" text-anchor="middle">10 Jul</text><path d="M853.2 418V424.8" stroke="#333" stroke-width="1"/><text x="854.0" y="436.9" text-anchor="middle">12 Jul</text><path d="M905.8 418V424.8" stroke="#333" stroke-width="1"/><text x="906.6" y="436.9" text-anchor="middle">14 Jul</text><path d="M958.5 418V424.8" stroke="#333" stroke-width="1"/><text x="959.3" y="436.9" text-anchor="middle">16 Jul</text>
<text x="985" y="271.0" text-anchor="end">40 kW</text><text x="985" y="307.6" text-anchor="end">30 kW</text><text x="985" y="344.0" text-anchor="end">20 kW</text><text x="985" y="380.3" text-anchor="end">10 kW</text><text x="985" y="416.2" text-anchor="end">0 kW</text>
</g>
<g>
<path d="M195.4 454.4H985" stroke="#999" stroke-width="0.9"/>
<path d="M195.4 483.6H985" stroke="#ddd" stroke-width="0.8"/>
<path d="M304 454.4V483.6M494.1 454.4V483.6M643.1 454.4V483.6M794 454.4V483.6M944.7 454.4V483.6" stroke="#e0e0e0" stroke-width="0.8"/>
<path d="M195.4 483.6L195.4 469.9L196.5 470.1L197.5 471.1L198.6 469.9L199.6 470.0L200.7 470.3L201.7 469.2L202.8 470.1L203.8 470.5L204.9 471.0L205.9 469.1L207.0 469.7L208.0 469.1L209.1 471.2L210.1 470.9L211.2 469.1L212.2 471.8L213.3 471.7L214.3 470.8L215.4 470.7L216.4 469.4L217.5 469.0L218.5 470.5L219.6 469.2L220.6 469.5L221.7 469.7L222.7 469.1L223.8 470.3L224.8 467.2L225.9 464.4L226.9 466.1L228.0 469.3L229.0 468.9L230.1 469.2L231.1 468.4L232.2 467.8L233.2 469.6L234.3 469.5L235.3 468.9L236.4 468.4L237.4 467.1L238.5 466.7L239.5 466.7L240.6 466.0L241.6 467.8L242.7 466.6L243.7 467.7L244.8 468.0L245.8 474.2L246.9 474.3L247.9 472.4L249.0 473.4L250.0 475.8L251.1 474.9L252.1 476.0L253.2 474.1L254.2 472.9L255.3 474.2L256.3 474.3L257.4 472.6L258.4 471.8L259.5 467.5L260.5 466.6L261.6 467.3L262.6 466.8L263.7 468.4L264.7 469.3L265.8 469.2L266.8 471.2L267.9 469.5L268.9 470.6L270.0 470.3L271.0 469.5L272.1 471.0L273.1 469.4L274.2 470.8L275.2 469.3L276.3 470.2L277.3 469.6L278.4 469.8L279.4 471.7L280.5 471.2L281.5 469.9L282.6 471.5L283.6 469.6L284.7 470.1L285.7 471.4L286.8 470.8L287.8 469.3L288.9 471.8L289.9 469.6L291.0 469.7L292.0 471.2L293.1 469.9L294.1 469.8L295.2 469.2L296.2 469.3L297.3 470.6L298.3 469.7L299.4 470.7L300.4 470.0L301.5 470.3L302.5 471.7L303.6 470.4L304.6 470.6L305.7 471.6L306.7 470.2L307.8 470.6L308.8 473.2L309.9 473.5L310.9 472.4L312.0 472.8L313.0 474.9L314.1 475.5L315.1 473.6L316.2 475.8L317.2 475.7L318.3 475.0L319.3 474.6L320.4 473.8L321.4 473.7L322.5 476.4L323.5 474.5L324.6 475.9L325.6 474.8L326.7 476.4L327.7 475.9L328.8 475.2L329.8 474.9L330.9 476.6L331.9 474.9L333.0 475.4L334.0 476.4L335.1 477.4L336.1 476.8L337.2 476.0L338.2 477.8L339.3 475.4L340.3 474.4L341.4 474.6L342.4 474.5L343.5 472.9L344.5 472.7L345.6 472.8L346.6 473.7L347.7 473.4L348.7 475.0L349.8 477.4L350.8 478.7L351.9 477.8L352.9 477.7L354.0 477.2L355.0 475.7L356.1 475.2L357.1 475.0L358.2 477.3L359.2 476.5L360.3 477.0L361.3 474.1L362.4 475.7L363.4 475.0L364.5 476.0L365.5 475.5L366.6 478.0L367.6 476.0L368.7 477.9L369.7 478.5L370.8 478.7L371.8 478.0L372.9 477.6L373.9 477.6L375.0 477.7L376.0 475.8L377.1 476.5L378.1 476.8L379.2 476.6L380.2 475.4L381.3 476.6L382.3 476.9L383.4 476.2L384.4 476.5L385.5 475.9L386.5 476.6L387.6 476.8L388.6 475.4L389.7 477.1L390.7 478.2L391.8 478.0L392.8 477.7L393.9 476.9L394.9 477.9L396.0 477.6L397.0 477.1L398.1 477.3L399.1 474.2L400.2 475.1L401.2 472.1L402.3 472.7L403.3 471.4L404.4 469.7L405.4 472.0L406.5 472.4L407.5 473.8L408.6 475.7L409.6 474.8L410.7 473.7L411.7 474.1L412.8 474.7L413.8 472.9L414.9 472.4L415.9 474.1L417.0 473.0L418.0 471.9L419.1 472.8L420.1 470.8L421.2 471.3L422.2 469.6L423.3 471.0L424.3 472.9L425.4 474.0L426.4 474.7L427.5 473.1L428.5 470.2L429.6 466.1L430.6 462.2L431.7 459.8L432.7 459.8L433.8 463.0L434.8 465.8L435.9 469.6L436.9 468.7L438.0 468.8L439.0 469.9L440.1 469.7L441.1 468.6L442.2 468.2L443.2 467.9L444.3 466.6L445.3 465.1L446.4 465.6L447.4 465.9L448.5 466.3L449.5 467.1L450.6 468.9L451.6 472.7L452.7 470.0L453.7 471.5L454.8 470.8L455.8 469.7L456.9 470.7L457.9 468.1L459.0 468.1L460.0 469.6L461.1 469.0L462.1 471.9L463.2 470.8L464.2 471.2L465.3 471.5L466.3 473.4L467.4 472.9L468.4 473.6L469.5 473.7L470.5 474.3L471.6 474.8L472.6 474.2L473.7 472.9L474.7 473.8L475.8 473.1L476.8 472.7L477.9 474.1L478.9 474.2L480.0 472.0L481.0 471.5L482.1 470.9L483.1 471.2L484.2 469.9L485.2 469.4L486.3 469.2L487.3 469.2L488.4 471.3L489.4 472.7L490.5 471.4L491.5 474.1L492.6 473.5L493.6 471.9L494.7 472.8L495.7 473.3L496.8 474.0L497.8 472.6L498.9 473.1L499.9 474.0L501.0 473.7L502.0 474.1L503.1 472.8L504.1 472.7L505.2 470.4L506.2 470.8L507.3 470.0L508.3 468.5L509.4 467.7L510.4 466.6L511.5 469.9L512.5 471.6L513.6 473.0L514.6 471.4L515.7 471.8L516.7 470.0L517.8 471.3L518.8 470.8L519.9 468.9L520.9 467.8L522.0 468.4L523.0 468.3L524.1 468.7L525.1 468.0L526.2 466.8L527.2 469.1L528.3 467.2L529.3 469.4L530.4 467.7L531.4 468.3L532.5 469.7L533.5 468.0L534.6 468.1L535.6 469.3L536.7 470.0L537.7 470.4L538.8 470.1L539.8 470.9L540.9 469.8L541.9 471.1L543.0 468.4L544.0 468.5L545.1 469.1L546.1 468.2L547.2 469.2L548.2 468.6L549.3 468.1L550.3 469.2L551.4 468.6L552.4 468.1L553.5 468.5L554.5 470.0L555.6 470.3L556.6 468.6L557.7 470.6L558.7 471.1L559.8 470.1L560.8 470.4L561.9 469.6L562.9 470.8L564.0 471.0L565.0 471.6L566.1 470.3L567.1 473.3L568.2 472.3L569.2 472.3L570.3 473.8L571.3 473.4L572.4 473.5L573.4 474.4L574.5 473.0L575.5 474.6L576.6 474.6L577.6 476.2L578.7 475.9L579.7 473.8L580.8 474.1L581.8 472.9L582.9 473.6L583.9 474.4L585.0 474.4L586.0 473.0L587.1 472.3L588.1 471.8L589.2 472.7L590.2 473.4L591.2 470.9L592.3 472.5L593.3 470.4L594.4 470.8L595.4 470.9L596.5 472.2L597.5 471.2L598.6 471.3L599.6 472.0L600.7 470.6L601.7 472.3L602.8 470.6L603.8 471.7L604.9 471.0L605.9 470.9L607.0 471.8L608.0 471.5L609.1 471.4L610.1 471.5L611.2 471.8L612.2 470.7L613.3 470.9L614.3 472.1L615.4 472.1L616.4 471.8L617.5 472.7L618.5 472.0L619.6 472.7L620.6 471.0L621.7 472.5L622.7 472.7L623.8 473.0L624.8 471.4L625.9 471.4L626.9 473.1L628.0 471.2L629.0 473.4L630.1 473.1L631.1 471.0L632.2 471.4L633.2 472.8L634.3 471.5L635.3 471.1L636.4 473.1L637.4 472.0L638.5 473.1L639.5 471.3L640.6 472.1L641.6 472.9L642.7 471.0L643.7 471.4L644.8 472.6L645.8 473.0L646.9 473.0L647.9 470.4L649.0 471.3L650.0 471.8L651.1 470.8L652.1 471.1L653.2 469.5L654.2 469.0L655.3 468.9L656.3 468.8L657.4 470.5L658.4 470.7L659.5 471.2L660.5 470.4L661.6 470.8L662.6 471.2L663.7 473.3L664.7 474.0L665.8 474.1L666.8 472.1L667.9 469.6L668.9 467.6L670.0 461.8L671.0 458.2L672.1 457.3L673.1 458.3L674.2 459.0L675.2 459.4L676.3 460.4L677.3 459.4L678.4 461.9L679.4 462.7L680.5 461.1L681.5 462.1L682.6 463.1L683.6 462.5L684.7 462.1L685.7 462.3L686.8 463.6L687.8 462.4L688.9 465.2L689.9 465.2L691.0 465.1L692.0 465.8L693.1 465.5L694.1 465.0L695.2 465.6L696.2 465.4L697.3 466.8L698.3 466.3L699.4 464.9L700.4 466.7L701.5 466.3L702.5 466.5L703.6 466.6L704.6 465.5L705.7 466.9L706.7 466.9L707.8 466.5L708.8 467.3L709.9 467.8L710.9 467.3L712.0 468.8L713.0 467.5L714.1 468.8L715.1 469.7L716.2 469.0L717.2 470.5L718.3 471.7L719.3 471.8L720.4 470.8L721.4 472.8L722.5 472.2L723.5 471.3L724.6 472.3L725.6 472.2L726.7 472.1L727.7 471.8L728.8 473.6L729.8 472.7L730.9 473.0L731.9 473.2L733.0 473.9L734.0 471.3L735.1 473.1L736.1 473.5L737.2 472.2L738.2 472.5L739.3 471.5L740.3 471.9L741.4 472.3L742.4 471.5L743.5 471.9L744.5 473.7L745.6 471.1L746.6 468.4L747.7 467.1L748.7 463.4L749.8 464.3L750.8 463.5L751.9 464.1L752.9 462.3L754.0 463.9L755.0 464.5L756.1 462.7L757.1 466.5L758.2 466.5L759.2 469.5L760.3 470.8L761.3 471.5L762.4 471.6L763.4 469.8L764.5 472.1L765.5 470.4L766.6 470.5L767.6 470.5L768.7 469.6L769.7 469.2L770.8 470.0L771.8 469.5L772.9 468.5L773.9 470.9L775.0 471.0L776.0 471.6L777.1 473.5L778.1 474.1L779.2 472.2L780.2 471.7L781.3 468.5L782.3 467.7L783.4 465.7L784.4 464.6L785.5 468.1L786.5 468.9L787.6 467.4L788.6 470.5L789.7 469.6L790.7 470.3L791.8 472.2L792.8 470.7L793.9 472.0L794.9 473.7L796.0 473.4L797.0 471.8L798.1 472.3L799.1 470.9L800.2 469.4L801.2 467.8L802.3 471.2L803.3 472.7L804.4 472.6L805.4 470.6L806.5 470.4L807.5 467.8L808.6 467.1L809.6 468.9L810.7 469.5L811.7 470.2L812.8 472.2L813.8 472.6L814.9 473.4L815.9 472.4L817.0 473.5L818.0 473.1L819.1 472.3L820.1 470.6L821.2 470.0L822.2 472.0L823.3 471.4L824.3 470.7L825.4 469.7L826.4 469.4L827.5 471.7L828.5 472.6L829.6 473.8L830.6 475.0L831.7 476.3L832.7 474.9L833.8 475.2L834.8 477.4L835.9 477.4L836.9 477.5L838.0 475.3L839.0 475.5L840.1 476.3L841.1 476.9L842.2 477.6L843.2 476.3L844.3 477.7L845.3 476.6L846.4 476.8L847.4 478.4L848.5 477.9L849.5 478.0L850.6 477.1L851.6 477.2L852.7 476.3L853.7 476.6L854.8 477.5L855.8 477.7L856.9 475.4L857.9 475.3L859.0 477.1L860.0 476.5L861.1 476.7L862.1 475.0L863.2 475.5L864.2 474.8L865.3 473.5L866.3 468.9L867.4 466.3L868.4 464.7L869.5 463.0L870.5 463.8L871.6 464.5L872.6 465.1L873.7 464.5L874.7 466.1L875.8 467.1L876.8 471.0L877.9 469.3L878.9 469.4L880.0 470.8L881.0 470.7L882.1 471.3L883.1 470.4L884.2 471.8L885.2 469.9L886.3 470.4L887.3 471.7L888.4 470.2L889.4 470.9L890.5 472.2L891.5 472.2L892.6 471.1L893.6 470.6L894.7 471.1L895.7 472.0L896.8 470.9L897.8 470.1L898.9 471.6L899.9 471.1L901.0 472.0L902.0 471.9L903.1 471.8L904.1 470.3L905.2 470.9L906.2 470.5L907.3 470.8L908.3 471.2L909.4 472.2L910.4 472.4L911.5 471.5L912.5 471.4L913.6 471.2L914.6 470.9L915.7 470.7L916.7 470.5L917.8 470.0L918.8 471.2L919.9 472.2L920.9 472.5L922.0 472.9L923.0 472.4L924.1 471.7L925.1 472.4L926.2 472.2L927.2 469.9L928.3 468.0L929.3 467.6L930.4 469.4L931.4 471.2L932.5 472.1L933.5 470.4L934.6 469.4L935.6 467.6L936.7 470.2L937.7 472.4L938.8 471.6L939.8 471.1L940.9 471.6L941.9 471.4L943.0 469.8L944.0 471.0L945.1 470.7L946.1 472.0L947.2 472.2L948.2 471.4L949.3 471.1L950.3 471.7L951.4 471.2L952.4 470.6L953.5 468.3L954.5 466.5L955.6 469.0L956.6 469.8L957.7 466.2L958.7 465.1L959.8 468.6L960.8 470.3L961.9 469.3L962.9 467.2L964.0 467.9L965.0 469.6L966.1 471.3L967.1 469.7L968.2 468.2L969.2 466.7L970.3 467.2L971.3 469.5L972.4 470.4L973.4 469.1L974.5 467.6L975.5 467.6L976.6 469.4L977.6 469.8L978.7 465.6L979.7 460.9L980.8 462.8L981.8 467.8L982.9 468.2L983.9 468.0L984.4 483.6Z" fill="#f3f4fc"/>
<path d="M195.4 476.1L195.9 480.4L196.4 474.6L196.9 476.2L197.4 474.9L197.9 478.3L198.4 479.2L198.9 475.3L199.4 474.6L199.9 477.1L200.4 477.9L200.9 480.0L201.4 474.4L201.9 474.9L202.4 475.4L202.9 475.6L203.4 475.7L203.9 478.8L204.4 478.0L204.9 475.6L205.4 475.4L205.9 476.0L206.4 475.3L206.9 479.0L207.4 476.2L207.9 477.7L208.4 479.4L208.9 477.3L209.4 475.9L209.9 479.9L210.4 480.1L210.9 476.4L211.4 477.7L211.9 480.3L212.4 477.3L212.9 475.6L213.4 474.5L213.9 480.3L214.4 479.3L214.9 476.7L215.4 477.6L215.9 477.5L216.4 476.0L216.9 480.5L217.4 478.4L217.9 475.7L218.4 474.3L218.9 477.2L219.4 476.6L219.9 479.3L220.4 478.8L220.9 478.1L221.4 475.2L221.9 475.2L222.4 476.3L222.9 475.9L223.4 479.8L223.9 477.5L224.4 478.3L224.9 480.6L225.4 475.9L225.9 477.6L226.4 475.2L226.9 479.1L227.4 474.2L227.9 479.5L228.4 479.6L228.9 479.5L229.4 474.7L229.9 475.9L230.4 478.8L230.9 474.8L231.4 477.3L231.9 477.2L232.4 480.3L232.9 478.0L233.4 479.7L233.9 476.1L234.4 479.3L234.9 476.9L235.4 480.1L235.9 474.8L236.4 479.5L236.9 475.5L237.4 477.7L237.9 477.6L238.4 475.2L238.9 479.5L239.4 476.2L239.9 476.2L240.4 474.7L240.9 476.2L241.4 477.2L241.9 478.8L242.4 476.5L242.9 478.6L243.4 474.9L243.9 476.7L244.4 477.2L244.9 480.4L245.4 479.5L245.9 478.4L246.4 474.3L246.9 476.6L247.4 478.7L247.9 475.7L248.4 477.8L248.9 477.1L249.4 474.3L249.9 480.5L250.4 479.3L250.9 475.5L251.4 478.1L251.9 476.1L252.4 476.6L252.9 477.7L253.4 476.1L253.9 476.4L254.4 476.7L254.9 478.5L255.4 475.8L255.9 475.5L256.4 478.9L256.9 476.3L257.4 480.2L257.9 477.8L258.4 478.8L258.9 476.3L259.4 479.5L259.9 474.8L260.4 475.1L260.9 474.8L261.4 478.5L261.9 478.7L262.4 475.4L262.9 476.8L263.4 479.6L263.9 478.0L264.4 474.8L264.9 475.7L265.4 475.2L265.9 475.0L266.4 476.8L266.9 474.7L267.4 480.1L267.9 476.9L268.4 477.5L268.9 478.3L269.4 479.1L269.9 479.5L270.4 476.7L270.9 476.3L271.4 476.8L271.9 474.3L272.4 476.8L272.9 478.7L273.4 480.5L273.9 479.3L274.4 478.4L274.9 478.1L275.4 474.3L275.9 476.3L276.4 476.4L276.9 478.4L277.4 474.9L277.9 476.6L278.4 477.5L278.9 479.2L279.4 479.5L279.9 478.1L280.4 475.2L280.9 479.1L281.4 480.0L281.9 477.7L282.4 476.5L282.9 477.4L283.4 475.1L283.9 478.8L284.4 480.5L284.9 477.5L285.4 478.8L285.9 479.5L286.4 475.5L286.9 480.2L287.4 478.2L287.9 475.5L288.4 474.7L288.9 475.8L289.4 477.9L289.9 478.7L290.4 476.3L290.9 480.1L291.4 476.5L291.9 477.2L292.4 475.0L292.9 480.4L293.4 475.1L293.9 480.0L294.4 477.7L294.9 477.8L295.4 477.8L295.9 475.9L296.4 480.0L296.9 480.5L297.4 479.4L297.9 478.0L298.4 475.0L298.9 479.5L299.4 476.0L299.9 479.9L300.4 475.7L300.9 477.9L301.4 479.5L301.9 475.4L302.4 477.7L302.9 474.7L303.4 474.4L303.9 475.4L304.4 480.5L304.9 480.2L305.4 479.5L305.9 478.3L306.4 479.5L306.9 479.7L307.4 478.6L307.9 479.3L308.4 480.0L308.9 477.4L309.4 478.0L309.9 478.8L310.4 477.8L310.9 478.6L311.4 479.2L311.9 477.9L312.4 479.0L312.9 478.2L313.4 479.2L313.9 478.4L314.4 479.4L314.9 477.4L315.4 479.5L315.9 477.8L316.4 480.5L316.9 479.3L317.4 478.9L317.9 478.7L318.4 479.4L318.9 479.6L319.4 479.8L319.9 479.8L320.4 478.9L320.9 480.6L321.4 480.1L321.9 480.1L322.4 478.6L322.9 478.7L323.4 479.2L323.9 480.3L324.4 479.0L324.9 479.0L325.4 478.7L325.9 480.3L326.4 478.4L326.9 477.5L327.4 479.7L327.9 480.3L328.4 479.7L328.9 479.3L329.4 479.8L329.9 478.3L330.4 479.3L330.9 477.5L331.4 477.7L331.9 478.8L332.4 479.0L332.9 478.6L333.4 477.5L333.9 479.6L334.4 479.0L334.9 478.1L335.4 478.3L335.9 478.6L336.4 478.1L336.9 477.5L337.4 480.3L337.9 480.5L338.4 479.5L338.9 480.2L339.4 478.7L339.9 480.0L340.4 478.0L340.9 479.8L341.4 479.2L341.9 480.3L342.4 477.6L342.9 479.9L343.4 477.7L343.9 479.1L344.4 480.4L344.9 477.3L345.4 478.1L345.9 478.3L346.4 478.4L346.9 477.5L347.4 480.3L347.9 480.0L348.4 478.6L348.9 478.5L349.4 479.2L349.9 477.5L350.4 477.4L350.9 480.3L351.4 478.3L351.9 478.9L352.4 480.4L352.9 480.5L353.4 478.9L353.9 478.0L354.4 478.3L354.9 480.3L355.4 480.3L355.9 477.9L356.4 480.1L356.9 478.5L357.4 478.9L357.9 477.9L358.4 480.2L358.9 480.6L359.4 478.0L359.9 479.4L360.4 477.9L360.9 480.2L361.4 477.5L361.9 477.7L362.4 479.7L362.9 478.3L363.4 480.3L363.9 480.2L364.4 479.7L364.9 477.7L365.4 479.6L365.9 480.4L366.4 478.8L366.9 477.6L367.4 478.0L367.9 478.3L368.4 479.6L368.9 477.9L369.4 477.9L369.9 478.1L370.4 479.5L370.9 479.9L371.4 478.5L371.9 479.5L372.4 480.2L372.9 479.2L373.4 478.1L373.9 478.3L374.4 480.4L374.9 479.5L375.4 478.2L375.9 479.4L376.4 477.6L376.9 480.5L377.4 478.8L377.9 479.0L378.4 479.1L378.9 477.4L379.4 479.3L379.9 478.2L380.4 478.1L380.9 480.0L381.4 477.6L381.9 478.2L382.4 479.8L382.9 478.1L383.4 478.2L383.9 479.1L384.4 477.9L384.9 480.3L385.4 480.6L385.9 477.4L386.4 478.8L386.9 479.8L387.4 478.6L387.9 480.4L388.4 478.9L388.9 477.9L389.4 479.1L389.9 479.4L390.4 478.5L390.9 479.5L391.4 479.9L391.9 479.0L392.4 479.0L392.9 480.1L393.4 479.6L393.9 479.0L394.4 480.4L394.9 477.9L395.4 479.9L395.9 477.8L396.4 479.3L396.9 478.1L397.4 478.8L397.9 479.9L398.4 479.9L398.9 479.9L399.4 478.1L399.9 478.9L400.4 479.7L400.9 480.3L401.4 480.1L401.9 479.4L402.4 480.3L402.9 480.5L403.4 480.3L403.9 480.8L404.4 479.6L404.9 479.6L405.4 479.3L405.9 480.1L406.4 480.0L406.9 480.1L407.4 479.7L407.9 480.7L408.4 479.4L408.9 480.8L409.4 480.3L409.9 480.2L410.4 480.6L410.9 479.7L411.4 479.5L411.9 479.8L412.4 479.4L412.9 479.8L413.4 480.4L413.9 480.2L414.4 479.8L414.9 480.3L415.4 479.5L415.9 480.7L416.4 479.6L416.9 479.7L417.4 479.6L417.9 480.5L418.4 480.7L418.9 480.6L419.4 479.4L419.9 480.0L420.4 479.9L420.9 479.7L421.4 480.9L421.9 479.4L422.4 480.1L422.9 480.6L423.4 481.0L423.9 479.5L424.4 480.1L424.9 480.6L425.4 479.4L425.9 479.7L426.4 480.8L426.9 479.5L427.4 480.0L427.9 479.8L428.4 480.0L428.9 479.4L429.4 479.4L429.9 481.0L430.4 480.6L430.9 480.5L431.4 479.7L431.9 479.7L432.4 480.2L432.9 479.7L433.4 480.1L433.9 480.9L434.4 479.9L434.9 479.9L435.4 481.0L435.9 480.3L436.4 479.4L436.9 480.0L437.4 480.4L437.9 479.4L438.4 479.9L438.9 480.5L439.4 480.8L439.9 480.3L440.4 480.8L440.9 480.1L441.4 480.0L441.9 480.7L442.4 479.9L442.9 480.6L443.4 479.7L443.9 479.9L444.4 479.6L444.9 480.2L445.4 479.6L445.9 479.6L446.4 479.7L446.9 480.1L447.4 479.8L447.9 480.1L448.4 481.0L448.9 480.5L449.4 480.8L449.9 479.6L450.4 480.0L450.9 479.4L451.4 480.5L451.9 479.9L452.4 479.8L452.9 479.3L453.4 479.6L453.9 479.7L454.4 480.0L454.9 480.9L455.4 480.5L455.9 479.8L456.4 479.9L456.9 479.6L457.4 480.9L457.9 479.9L458.4 480.6L458.9 480.5L459.4 480.8L459.9 479.3L460.4 479.8L460.9 480.0L461.4 479.4L461.9 480.8L462.4 479.9L462.9 480.6L463.4 480.2L463.9 479.4L464.4 480.0L464.9 479.7L465.4 479.4L465.9 479.6L466.4 480.3L466.9 479.4L467.4 479.8L467.9 480.0L468.4 480.2L468.9 479.5L469.4 480.5L469.9 479.7L470.4 480.5L470.9 480.4L471.4 479.6L471.9 479.6L472.4 479.8L472.9 480.5L473.4 480.0L473.9 480.0L474.4 480.8L474.9 479.7L475.4 479.8L475.9 479.9L476.4 479.7L476.9 479.4L477.4 479.3L477.9 480.4L478.4 480.3L478.9 480.7L479.4 481.0L479.9 479.8L480.4 480.4L480.9 480.9L481.4 479.7L481.9 480.5L482.4 480.4L482.9 480.9L483.4 480.8L483.9 479.7L484.4 480.4L484.9 479.5L485.4 480.0L485.9 480.0L486.4 479.4L486.9 480.0L487.4 479.9L487.9 480.1L488.4 479.8L488.9 479.6L489.4 480.0L489.9 480.1L490.4 479.6L490.9 480.4L491.4 479.7L491.9 479.5L492.4 479.9L492.9 480.0L493.4 479.6L493.9 480.3L494.4 480.5L494.9 480.2L495.4 480.5L495.9 479.3L496.4 480.0L496.9 479.9L497.4 479.4L497.9 480.0L498.4 479.4L498.9 480.1L499.4 480.3L499.9 480.1L500.4 479.9L500.9 479.7L501.4 479.3L501.9 479.9L502.4 480.8L502.9 480.3L503.4 479.7L503.9 480.4L504.4 479.6L504.9 480.1L505.4 480.3L505.9 480.9L506.4 479.9L506.9 480.3L507.4 480.9L507.9 480.6L508.4 480.4L508.9 480.4L509.4 480.0L509.9 480.0L510.4 479.8L510.9 480.7L511.4 480.8L511.9 479.9L512.4 480.8L512.9 479.4L513.4 479.5L513.9 480.2L514.4 479.8L514.9 479.9L515.4 481.0L515.9 479.6L516.4 479.6L516.9 479.7L517.4 480.5L517.9 479.7L518.4 479.3L518.9 480.2L519.4 480.0L519.9 479.7L520.4 480.1L520.9 480.4L521.4 480.2L521.9 480.4L522.4 480.3L522.9 480.7L523.4 480.9L523.9 479.9L524.4 479.9L524.9 480.8L525.4 479.8L525.9 480.5L526.4 480.5L526.9 480.5L527.4 480.9L527.9 480.7L528.4 479.6L528.9 480.4L529.4 480.1L529.9 480.3L530.4 479.9L530.9 479.8L531.4 480.6L531.9 480.2L532.4 479.7L532.9 479.7L533.4 479.9L533.9 479.6L534.4 480.2L534.9 479.5L535.4 479.4L535.9 479.4L536.4 479.5L536.9 480.5L537.4 479.5L537.9 480.1L538.4 480.6L538.9 480.1L539.4 479.6L539.9 480.8L540.4 480.8L540.9 479.4L541.4 479.7L541.9 480.2L542.4 480.7L542.9 480.0L543.4 480.5L543.9 479.7L544.4 480.5L544.9 479.9L545.4 479.9L545.9 480.6L546.4 480.7L546.9 480.7L547.4 480.3L547.9 480.0L548.4 480.5L548.9 480.4L549.4 480.7L549.9 480.7L550.4 479.5L550.9 479.9L551.4 480.4L551.9 479.7L552.4 479.6L552.9 479.3L553.4 480.3L553.9 480.9L554.4 480.9L554.9 479.5L555.4 480.5L555.9 480.0L556.4 480.4L556.9 480.0L557.4 480.9L557.9 481.0L558.4 479.4L558.9 480.5L559.4 479.5L559.9 479.4L560.4 479.8L560.9 480.5L561.4 481.0L561.9 479.5L562.4 479.8L562.9 479.3L563.4 480.2L563.9 480.1L564.4 479.9L564.9 479.7L565.4 480.6L565.9 480.7L566.4 479.7L566.9 479.9L567.4 480.2L567.9 480.5L568.4 480.9L568.9 479.8L569.4 480.4L569.9 480.1L570.4 480.5L570.9 479.4L571.4 479.4L571.9 479.3L572.4 480.7L572.9 479.5L573.4 479.9L573.9 479.3L574.4 479.6L574.9 479.1L575.4 480.0L575.9 479.3L576.4 480.1L576.9 479.5L577.4 479.4L577.9 479.8L578.4 479.6L578.9 479.4L579.4 479.0L579.9 479.0L580.4 480.6L580.9 479.5L581.4 479.0L581.9 479.2L582.4 479.8L582.9 480.7L583.4 479.2L583.9 480.5L584.4 479.8L584.9 479.6L585.4 480.3L585.9 479.6L586.4 478.9L586.9 479.8L587.4 480.0L587.9 480.0L588.4 479.3L588.9 480.6L589.4 480.4L589.9 480.6L590.4 479.6L590.9 480.3L591.4 480.1L591.9 479.0L592.4 478.8L592.9 479.0L593.4 478.9L593.9 478.8L594.4 479.4L594.9 480.1L595.4 479.2L595.9 479.6L596.4 478.6L596.9 479.0L597.4 480.5L597.9 478.6L598.4 479.6L598.9 480.2L599.4 480.1L599.9 480.0L600.4 479.3L600.9 480.1L601.4 480.2L601.9 480.1L602.4 480.5L602.9 478.7L603.4 480.4L603.9 479.3L604.4 479.9L604.9 479.0L605.4 480.3L605.9 478.5L606.4 479.6L606.9 478.9L607.4 479.2L607.9 479.2L608.4 479.7L608.9 480.1L609.4 479.1L609.9 479.7L610.4 479.1L610.9 478.9L611.4 480.2L611.9 479.0L612.4 478.5L612.9 479.0L613.4 479.9L613.9 478.7L614.4 479.8L614.9 479.4L615.4 479.7L615.9 478.6L616.4 478.5L616.9 478.5L617.4 479.0L617.9 479.1L618.4 478.2L618.9 479.3L619.4 479.1L619.9 478.9L620.4 479.3L620.9 480.2L621.4 478.6L621.9 480.0L622.4 478.8L622.9 479.8L623.4 478.4L623.9 480.2L624.4 479.0L624.9 480.2L625.4 478.6L625.9 479.0L626.4 479.6L626.9 478.4L627.4 478.6L627.9 479.5L628.4 480.1L628.9 478.7L629.4 478.4L629.9 478.8L630.4 480.2L630.9 478.3L631.4 479.4L631.9 478.8L632.4 479.4L632.9 478.4L633.4 479.3L633.9 479.9L634.4 479.8L634.9 479.3L635.4 479.0L635.9 479.2L636.4 478.1L636.9 479.8L637.4 479.4L637.9 478.9L638.4 479.3L638.9 478.8L639.4 478.7L639.9 478.3L640.4 479.2L640.9 479.1L641.4 479.0L641.9 477.9L642.4 479.2L642.9 478.8L643.4 479.1L643.9 479.1L644.4 479.9L644.9 478.1L645.4 478.8L645.9 480.0L646.4 479.4L646.9 478.4L647.4 479.4L647.9 480.0L648.4 478.6L648.9 479.7L649.4 477.9L649.9 479.9L650.4 478.8L650.9 478.2L651.4 479.6L651.9 479.1L652.4 479.8L652.9 479.5L653.4 479.5L653.9 478.8L654.4 479.9L654.9 477.7L655.4 479.6L655.9 479.2L656.4 478.1L656.9 479.4L657.4 478.6L657.9 478.8L658.4 479.6L658.9 477.9L659.4 478.1L659.9 479.0L660.4 477.6L660.9 478.8L661.4 479.3L661.9 478.6L662.4 478.0L662.9 479.3L663.4 479.5L663.9 479.3L664.4 478.7L664.9 479.6L665.4 479.3L665.9 477.7L666.4 478.2L666.9 477.6L667.4 477.4L667.9 478.2L668.4 479.4L668.9 479.3L669.4 477.6L669.9 477.7L670.4 478.2L670.9 479.4L671.4 478.8L671.9 479.5L672.4 477.4L672.9 479.7L673.4 477.7L673.9 478.8L674.4 479.4L674.9 479.0L675.4 477.7L675.9 478.8L676.4 478.2L676.9 477.2L677.4 478.0L677.9 477.9L678.4 478.7L678.9 477.8L679.4 478.6L679.9 478.8L680.4 477.5L680.9 477.4L681.4 478.8L681.9 478.2L682.4 477.4L682.9 477.3L683.4 479.4L683.9 478.6L684.4 477.9L684.9 477.5L685.4 479.6L685.9 478.8L686.4 478.9L686.9 477.9L687.4 477.7L687.9 478.0L688.4 477.3L688.9 478.6L689.4 478.0L689.9 479.0L690.4 478.0L690.9 478.1L691.4 478.2L691.9 479.3L692.4 477.8L692.9 478.7L693.4 477.4L693.9 478.4L694.4 477.6L694.9 479.1L695.4 477.5L695.9 479.1L696.4 478.6L696.9 478.0L697.4 479.3L697.9 477.8L698.4 478.7L698.9 478.3L699.4 477.9L699.9 476.9L700.4 476.4L700.9 475.4L701.4 476.6L701.9 480.3L702.4 475.5L702.9 478.4L703.4 478.2L703.9 475.2L704.4 476.4L704.9 474.4L705.4 479.8L705.9 475.2L706.4 476.4L706.9 475.9L707.4 479.3L707.9 479.5L708.4 477.7L708.9 477.3L709.4 474.1L709.9 479.9L710.4 474.0L710.9 476.0L711.4 476.1L711.9 478.6L712.4 478.2L712.9 475.9L713.4 479.9L713.9 480.2L714.4 473.6L714.9 478.0L715.4 476.8L715.9 476.0L716.4 476.7L716.9 475.7L717.4 478.2L717.9 477.8L718.4 480.4L718.9 480.4L719.4 480.5L719.9 476.2L720.4 479.4L720.9 478.1L721.4 478.4L721.9 480.6L722.4 473.9L722.9 476.7L723.4 476.3L723.9 478.1L724.4 475.0L724.9 480.5L725.4 474.9L725.9 476.1L726.4 474.4L726.9 476.2L727.4 478.7L727.9 474.0L728.4 474.6L728.9 478.1L729.4 477.9L729.9 478.7L730.4 475.2L730.9 479.2L731.4 478.7L731.9 479.0L732.4 474.3L732.9 476.8L733.4 473.5L733.9 479.6L734.4 480.2L734.9 479.8L735.4 473.6L735.9 475.9L736.4 477.3L736.9 477.2L737.4 474.2L737.9 479.1L738.4 475.6L738.9 477.1L739.4 474.3L739.9 477.5L740.4 474.3L740.9 474.0L741.4 477.1L741.9 475.5L742.4 479.0L742.9 475.2L743.4 476.4L743.9 473.8L744.4 475.0L744.9 476.7L745.4 477.4L745.9 476.7L746.4 479.5L746.9 474.2L747.4 479.5L747.9 474.5L748.4 480.4L748.9 477.2L749.4 476.3L749.9 477.8L750.4 479.6L750.9 480.3L751.4 476.4L751.9 473.5L752.4 474.5L752.9 479.3L753.4 478.7L753.9 478.5L754.4 474.5L754.9 477.2L755.4 473.6L755.9 474.2L756.4 475.6L756.9 480.4L757.4 478.0L757.9 479.5L758.4 473.7L758.9 476.4L759.4 474.0L759.9 475.3L760.4 474.2L760.9 480.0L761.4 475.8L761.9 476.9L762.4 478.1L762.9 479.8L763.4 480.2L763.9 477.5L764.4 477.0L764.9 479.9L765.4 476.2L765.9 475.6L766.4 478.7L766.9 475.3L767.4 476.0L767.9 476.5L768.4 476.8L768.9 476.0L769.4 476.5L769.9 476.6L770.4 473.8L770.9 479.4L771.4 473.8L771.9 477.2L772.4 477.3L772.9 476.3L773.4 475.0L773.9 474.1L774.4 476.1L774.9 475.7L775.4 476.9L775.9 475.1L776.4 478.8L776.9 476.9L777.4 473.5L777.9 476.3L778.4 480.4L778.9 473.5L779.4 477.7L779.9 480.3L780.4 476.0L780.9 477.7L781.4 476.1L781.9 475.6L782.4 477.8L782.9 477.6L783.4 475.7L783.9 477.0L784.4 477.1L784.9 478.8L785.4 473.8L785.9 474.1L786.4 475.2L786.9 475.3L787.4 479.1L787.9 476.5L788.4 479.6L788.9 476.3L789.4 475.5L789.9 478.3L790.4 474.0L790.9 480.5L791.4 479.4L791.9 475.8L792.4 475.7L792.9 479.3L793.4 479.1L793.9 478.0L794.4 473.8L794.9 478.9L795.4 473.7L795.9 477.9L796.4 477.4L796.9 480.1L797.4 478.0L797.9 473.6L798.4 480.1L798.9 478.8L799.4 477.6L799.9 473.4L800.4 478.7L800.9 476.4L801.4 478.3L801.9 480.5L802.4 480.0L802.9 473.9L803.4 479.0L803.9 476.6L804.4 478.8L804.9 476.1L805.4 476.6L805.9 476.5L806.4 474.2L806.9 475.7L807.4 478.7L807.9 473.9L808.4 474.2L808.9 479.4L809.4 478.2L809.9 477.3L810.4 474.2L810.9 474.3L811.4 475.6L811.9 480.3L812.4 477.4L812.9 480.0L813.4 474.9L813.9 476.4L814.4 477.3L814.9 479.4L815.4 474.3L815.9 479.7L816.4 476.8L816.9 473.6L817.4 476.5L817.9 476.1L818.4 478.3L818.9 480.1L819.4 477.0L819.9 478.4L820.4 476.2L820.9 479.0L821.4 474.2L821.9 478.7L822.4 474.6L822.9 477.6L823.4 474.9L823.9 475.9L824.4 474.6L824.9 475.9L825.4 477.7L825.9 477.1L826.4 476.2L826.9 477.5L827.4 479.5L827.9 476.0L828.4 477.6L828.9 476.9L829.4 480.5L829.9 475.8L830.4 478.4L830.9 475.1L831.4 475.3L831.9 478.7L832.4 477.5L832.9 475.3L833.4 473.9L833.9 479.3L834.4 476.1L834.9 478.6L835.4 476.5L835.9 477.8L836.4 477.4L836.9 480.4L837.4 479.9L837.9 476.7L838.4 476.9L838.9 475.1L839.4 478.8L839.9 474.1L840.4 475.6L840.9 479.5L841.4 473.7L841.9 478.4L842.4 477.5L842.9 477.4L843.4 475.8L843.9 474.5L844.4 480.2L844.9 478.9L845.4 479.2L845.9 474.1L846.4 479.0L846.9 475.0L847.4 474.8L847.9 477.3L848.4 477.8L848.9 474.3L849.4 478.9L849.9 477.6L850.4 479.9L850.9 480.1L851.4 478.4L851.9 476.0L852.4 480.2L852.9 478.6L853.4 475.5L853.9 479.6L854.4 478.6L854.9 475.3L855.4 475.2L855.9 473.5L856.4 477.3L856.9 475.2L857.4 475.5L857.9 475.2L858.4 474.3L858.9 476.9L859.4 475.4L859.9 475.5L860.4 475.4L860.9 477.1L861.4 479.7L861.9 474.6L862.4 479.6L862.9 479.6L863.4 477.8L863.9 477.3L864.4 478.7L864.9 477.2L865.4 478.2L865.9 480.0L866.4 479.0L866.9 475.3L867.4 473.8L867.9 480.1L868.4 476.0L868.9 479.1L869.4 475.1L869.9 476.7L870.4 476.1L870.9 478.7L871.4 480.2L871.9 477.0L872.4 477.5L872.9 475.9L873.4 475.1L873.9 480.2L874.4 474.2L874.9 480.2L875.4 478.1L875.9 473.9L876.4 479.9L876.9 474.1L877.4 477.5L877.9 474.3L878.4 480.5L878.9 475.6L879.4 479.7L879.9 473.8L880.4 478.2L880.9 473.9L881.4 473.6L881.9 477.5L882.4 480.5L882.9 478.3L883.4 479.6L883.9 479.1L884.4 477.2L884.9 474.0L885.4 477.2L885.9 474.7L886.4 477.2L886.9 476.0L887.4 477.0L887.9 474.8L888.4 478.5L888.9 476.4L889.4 476.9L889.9 474.0L890.4 476.9L890.9 477.4L891.4 480.4L891.9 477.4L892.4 474.4L892.9 475.6L893.4 475.8L893.9 478.5L894.4 480.2L894.9 480.4L895.4 480.2L895.9 480.1L896.4 479.6L896.9 480.1L897.4 473.5L897.9 476.9L898.4 477.7L898.9 478.3L899.4 477.8L899.9 477.8L900.4 480.1L900.9 474.0L901.4 477.1L901.9 480.3L902.4 473.6L902.9 474.2L903.4 479.7L903.9 480.3L904.4 473.6L904.9 473.6L905.4 479.4L905.9 478.4L906.4 477.1L906.9 477.6L907.4 478.9L907.9 479.2L908.4 473.4L908.9 473.9L909.4 479.1L909.9 480.4L910.4 479.4L910.9 476.3L911.4 475.8L911.9 475.9L912.4 473.5L912.9 478.9L913.4 475.3L913.9 477.6L914.4 477.2L914.9 475.8L915.4 478.3L915.9 476.7L916.4 475.1L916.9 479.7L917.4 474.7L917.9 474.5L918.4 475.2L918.9 476.8L919.4 479.0L919.9 475.8L920.4 475.1L920.9 478.1L921.4 475.3L921.9 477.2L922.4 475.2L922.9 479.7L923.4 474.7L923.9 475.1L924.4 475.6L924.9 475.8L925.4 478.6L925.9 478.3L926.4 479.1L926.9 477.3L927.4 474.0L927.9 478.9L928.4 475.2L928.9 475.0L929.4 476.4L929.9 480.5L930.4 476.1L930.9 476.0L931.4 480.0L931.9 480.5L932.4 476.2L932.9 474.4L933.4 479.1L933.9 479.0L934.4 475.8L934.9 479.1L935.4 476.1L935.9 475.5L936.4 477.7L936.9 478.7L937.4 476.8L937.9 479.3L938.4 473.5L938.9 477.0L939.4 476.1L939.9 473.9L940.4 480.0L940.9 474.4L941.4 474.9L941.9 479.7L942.4 480.3L942.9 480.1L943.4 475.9L943.9 480.1L944.4 474.4L944.9 478.5L945.4 480.2L945.9 474.8L946.4 474.4L946.9 478.3L947.4 479.8L947.9 478.6L948.4 480.2L948.9 476.7L949.4 476.1L949.9 474.3L950.4 475.4L950.9 480.2L951.4 473.9L951.9 474.7L952.4 475.9L952.9 473.8L953.4 475.6L953.9 474.7L954.4 474.3L954.9 477.2L955.4 477.3L955.9 477.5L956.4 478.9L956.9 477.2L957.4 480.2L957.9 474.0L958.4 475.0L958.9 474.0L959.4 475.6L959.9 478.9L960.4 480.1L960.9 477.0L961.4 474.6L961.9 475.8L962.4 477.5L962.9 475.5L963.4 479.1L963.9 480.4L964.4 476.7L964.9 477.7L965.4 479.5L965.9 476.7L966.4 474.8L966.9 480.2L967.4 480.4L967.9 473.6L968.4 478.9L968.9 476.3L969.4 473.8L969.9 474.6L970.4 474.6L970.9 478.7L971.4 474.9L971.9 473.5L972.4 475.0L972.9 479.2L973.4 477.0L973.9 478.1L974.4 476.7L974.9 474.7L975.4 473.5L975.9 475.6L976.4 473.7L976.9 475.3L977.4 477.9L977.9 476.1L978.4 476.8L978.9 477.9L979.4 475.7L979.9 476.0L980.4 479.8L980.9 477.6L981.4 476.4L981.9 477.3L982.4 476.7L982.9 475.8L983.4 480.0L983.9 475.1L984.4 480.1" fill="none" stroke="#f5cb58" stroke-width="1" opacity="0.8"/>
<path d="M195.4 469.9L196.5 470.1L197.5 471.1L198.6 469.9L199.6 470.0L200.7 470.3L201.7 469.2L202.8 470.1L203.8 470.5L204.9 471.0L205.9 469.1L207.0 469.7L208.0 469.1L209.1 471.2L210.1 470.9L211.2 469.1L212.2 471.8L213.3 471.7L214.3 470.8L215.4 470.7L216.4 469.4L217.5 469.0L218.5 470.5L219.6 469.2L220.6 469.5L221.7 469.7L222.7 469.1L223.8 470.3L224.8 467.2L225.9 464.4L226.9 466.1L228.0 469.3L229.0 468.9L230.1 469.2L231.1 468.4L232.2 467.8L233.2 469.6L234.3 469.5L235.3 468.9L236.4 468.4L237.4 467.1L238.5 466.7L239.5 466.7L240.6 466.0L241.6 467.8L242.7 466.6L243.7 467.7L244.8 468.0L245.8 474.2L246.9 474.3L247.9 472.4L249.0 473.4L250.0 475.8L251.1 474.9L252.1 476.0L253.2 474.1L254.2 472.9L255.3 474.2L256.3 474.3L257.4 472.6L258.4 471.8L259.5 467.5L260.5 466.6L261.6 467.3L262.6 466.8L263.7 468.4L264.7 469.3L265.8 469.2L266.8 471.2L267.9 469.5L268.9 470.6L270.0 470.3L271.0 469.5L272.1 471.0L273.1 469.4L274.2 470.8L275.2 469.3L276.3 470.2L277.3 469.6L278.4 469.8L279.4 471.7L280.5 471.2L281.5 469.9L282.6 471.5L283.6 469.6L284.7 470.1L285.7 471.4L286.8 470.8L287.8 469.3L288.9 471.8L289.9 469.6L291.0 469.7L292.0 471.2L293.1 469.9L294.1 469.8L295.2 469.2L296.2 469.3L297.3 470.6L298.3 469.7L299.4 470.7L300.4 470.0L301.5 470.3L302.5 471.7L303.6 470.4L304.6 470.6L305.7 471.6L306.7 470.2L307.8 470.6L308.8 473.2L309.9 473.5L310.9 472.4L312.0 472.8L313.0 474.9L314.1 475.5L315.1 473.6L316.2 475.8L317.2 475.7L318.3 475.0L319.3 474.6L320.4 473.8L321.4 473.7L322.5 476.4L323.5 474.5L324.6 475.9L325.6 474.8L326.7 476.4L327.7 475.9L328.8 475.2L329.8 474.9L330.9 476.6L331.9 474.9L333.0 475.4L334.0 476.4L335.1 477.4L336.1 476.8L337.2 476.0L338.2 477.8L339.3 475.4L340.3 474.4L341.4 474.6L342.4 474.5L343.5 472.9L344.5 472.7L345.6 472.8L346.6 473.7L347.7 473.4L348.7 475.0L349.8 477.4L350.8 478.7L351.9 477.8L352.9 477.7L354.0 477.2L355.0 475.7L356.1 475.2L357.1 475.0L358.2 477.3L359.2 476.5L360.3 477.0L361.3 474.1L362.4 475.7L363.4 475.0L364.5 476.0L365.5 475.5L366.6 478.0L367.6 476.0L368.7 477.9L369.7 478.5L370.8 478.7L371.8 478.0L372.9 477.6L373.9 477.6L375.0 477.7L376.0 475.8L377.1 476.5L378.1 476.8L379.2 476.6L380.2 475.4L381.3 476.6L382.3 476.9L383.4 476.2L384.4 476.5L385.5 475.9L386.5 476.6L387.6 476.8L388.6 475.4L389.7 477.1L390.7 478.2L391.8 478.0L392.8 477.7L393.9 476.9L394.9 477.9L396.0 477.6L397.0 477.1L398.1 477.3L399.1 474.2L400.2 475.1L401.2 472.1L402.3 472.7L403.3 471.4L404.4 469.7L405.4 472.0L406.5 472.4L407.5 473.8L408.6 475.7L409.6 474.8L410.7 473.7L411.7 474.1L412.8 474.7L413.8 472.9L414.9 472.4L415.9 474.1L417.0 473.0L418.0 471.9L419.1 472.8L420.1 470.8L421.2 471.3L422.2 469.6L423.3 471.0L424.3 472.9L425.4 474.0L426.4 474.7L427.5 473.1L428.5 470.2L429.6 466.1L430.6 462.2L431.7 459.8L432.7 459.8L433.8 463.0L434.8 465.8L435.9 469.6L436.9 468.7L438.0 468.8L439.0 469.9L440.1 469.7L441.1 468.6L442.2 468.2L443.2 467.9L444.3 466.6L445.3 465.1L446.4 465.6L447.4 465.9L448.5 466.3L449.5 467.1L450.6 468.9L451.6 472.7L452.7 470.0L453.7 471.5L454.8 470.8L455.8 469.7L456.9 470.7L457.9 468.1L459.0 468.1L460.0 469.6L461.1 469.0L462.1 471.9L463.2 470.8L464.2 471.2L465.3 471.5L466.3 473.4L467.4 472.9L468.4 473.6L469.5 473.7L470.5 474.3L471.6 474.8L472.6 474.2L473.7 472.9L474.7 473.8L475.8 473.1L476.8 472.7L477.9 474.1L478.9 474.2L480.0 472.0L481.0 471.5L482.1 470.9L483.1 471.2L484.2 469.9L485.2 469.4L486.3 469.2L487.3 469.2L488.4 471.3L489.4 472.7L490.5 471.4L491.5 474.1L492.6 473.5L493.6 471.9L494.7 472.8L495.7 473.3L496.8 474.0L497.8 472.6L498.9 473.1L499.9 474.0L501.0 473.7L502.0 474.1L503.1 472.8L504.1 472.7L505.2 470.4L506.2 470.8L507.3 470.0L508.3 468.5L509.4 467.7L510.4 466.6L511.5 469.9L512.5 471.6L513.6 473.0L514.6 471.4L515.7 471.8L516.7 470.0L517.8 471.3L518.8 470.8L519.9 468.9L520.9 467.8L522.0 468.4L523.0 468.3L524.1 468.7L525.1 468.0L526.2 466.8L527.2 469.1L528.3 467.2L529.3 469.4L530.4 467.7L531.4 468.3L532.5 469.7L533.5 468.0L534.6 468.1L535.6 469.3L536.7 470.0L537.7 470.4L538.8 470.1L539.8 470.9L540.9 469.8L541.9 471.1L543.0 468.4L544.0 468.5L545.1 469.1L546.1 468.2L547.2 469.2L548.2 468.6L549.3 468.1L550.3 469.2L551.4 468.6L552.4 468.1L553.5 468.5L554.5 470.0L555.6 470.3L556.6 468.6L557.7 470.6L558.7 471.1L559.8 470.1L560.8 470.4L561.9 469.6L562.9 470.8L564.0 471.0L565.0 471.6L566.1 470.3L567.1 473.3L568.2 472.3L569.2 472.3L570.3 473.8L571.3 473.4L572.4 473.5L573.4 474.4L574.5 473.0L575.5 474.6L576.6 474.6L577.6 476.2L578.7 475.9L579.7 473.8L580.8 474.1L581.8 472.9L582.9 473.6L583.9 474.4L585.0 474.4L586.0 473.0L587.1 472.3L588.1 471.8L589.2 472.7L590.2 473.4L591.2 470.9L592.3 472.5L593.3 470.4L594.4 470.8L595.4 470.9L596.5 472.2L597.5 471.2L598.6 471.3L599.6 472.0L600.7 470.6L601.7 472.3L602.8 470.6L603.8 471.7L604.9 471.0L605.9 470.9L607.0 471.8L608.0 471.5L609.1 471.4L610.1 471.5L611.2 471.8L612.2 470.7L613.3 470.9L614.3 472.1L615.4 472.1L616.4 471.8L617.5 472.7L618.5 472.0L619.6 472.7L620.6 471.0L621.7 472.5L622.7 472.7L623.8 473.0L624.8 471.4L625.9 471.4L626.9 473.1L628.0 471.2L629.0 473.4L630.1 473.1L631.1 471.0L632.2 471.4L633.2 472.8L634.3 471.5L635.3 471.1L636.4 473.1L637.4 472.0L638.5 473.1L639.5 471.3L640.6 472.1L641.6 472.9L642.7 471.0L643.7 471.4L644.8 472.6L645.8 473.0L646.9 473.0L647.9 470.4L649.0 471.3L650.0 471.8L651.1 470.8L652.1 471.1L653.2 469.5L654.2 469.0L655.3 468.9L656.3 468.8L657.4 470.5L658.4 470.7L659.5 471.2L660.5 470.4L661.6 470.8L662.6 471.2L663.7 473.3L664.7 474.0L665.8 474.1L666.8 472.1L667.9 469.6L668.9 467.6L670.0 461.8L671.0 458.2L672.1 457.3L673.1 458.3L674.2 459.0L675.2 459.4L676.3 460.4L677.3 459.4L678.4 461.9L679.4 462.7L680.5 461.1L681.5 462.1L682.6 463.1L683.6 462.5L684.7 462.1L685.7 462.3L686.8 463.6L687.8 462.4L688.9 465.2L689.9 465.2L691.0 465.1L692.0 465.8L693.1 465.5L694.1 465.0L695.2 465.6L696.2 465.4L697.3 466.8L698.3 466.3L699.4 464.9L700.4 466.7L701.5 466.3L702.5 466.5L703.6 466.6L704.6 465.5L705.7 466.9L706.7 466.9L707.8 466.5L708.8 467.3L709.9 467.8L710.9 467.3L712.0 468.8L713.0 467.5L714.1 468.8L715.1 469.7L716.2 469.0L717.2 470.5L718.3 471.7L719.3 471.8L720.4 470.8L721.4 472.8L722.5 472.2L723.5 471.3L724.6 472.3L725.6 472.2L726.7 472.1L727.7 471.8L728.8 473.6L729.8 472.7L730.9 473.0L731.9 473.2L733.0 473.9L734.0 471.3L735.1 473.1L736.1 473.5L737.2 472.2L738.2 472.5L739.3 471.5L740.3 471.9L741.4 472.3L742.4 471.5L743.5 471.9L744.5 473.7L745.6 471.1L746.6 468.4L747.7 467.1L748.7 463.4L749.8 464.3L750.8 463.5L751.9 464.1L752.9 462.3L754.0 463.9L755.0 464.5L756.1 462.7L757.1 466.5L758.2 466.5L759.2 469.5L760.3 470.8L761.3 471.5L762.4 471.6L763.4 469.8L764.5 472.1L765.5 470.4L766.6 470.5L767.6 470.5L768.7 469.6L769.7 469.2L770.8 470.0L771.8 469.5L772.9 468.5L773.9 470.9L775.0 471.0L776.0 471.6L777.1 473.5L778.1 474.1L779.2 472.2L780.2 471.7L781.3 468.5L782.3 467.7L783.4 465.7L784.4 464.6L785.5 468.1L786.5 468.9L787.6 467.4L788.6 470.5L789.7 469.6L790.7 470.3L791.8 472.2L792.8 470.7L793.9 472.0L794.9 473.7L796.0 473.4L797.0 471.8L798.1 472.3L799.1 470.9L800.2 469.4L801.2 467.8L802.3 471.2L803.3 472.7L804.4 472.6L805.4 470.6L806.5 470.4L807.5 467.8L808.6 467.1L809.6 468.9L810.7 469.5L811.7 470.2L812.8 472.2L813.8 472.6L814.9 473.4L815.9 472.4L817.0 473.5L818.0 473.1L819.1 472.3L820.1 470.6L821.2 470.0L822.2 472.0L823.3 471.4L824.3 470.7L825.4 469.7L826.4 469.4L827.5 471.7L828.5 472.6L829.6 473.8L830.6 475.0L831.7 476.3L832.7 474.9L833.8 475.2L834.8 477.4L835.9 477.4L836.9 477.5L838.0 475.3L839.0 475.5L840.1 476.3L841.1 476.9L842.2 477.6L843.2 476.3L844.3 477.7L845.3 476.6L846.4 476.8L847.4 478.4L848.5 477.9L849.5 478.0L850.6 477.1L851.6 477.2L852.7 476.3L853.7 476.6L854.8 477.5L855.8 477.7L856.9 475.4L857.9 475.3L859.0 477.1L860.0 476.5L861.1 476.7L862.1 475.0L863.2 475.5L864.2 474.8L865.3 473.5L866.3 468.9L867.4 466.3L868.4 464.7L869.5 463.0L870.5 463.8L871.6 464.5L872.6 465.1L873.7 464.5L874.7 466.1L875.8 467.1L876.8 471.0L877.9 469.3L878.9 469.4L880.0 470.8L881.0 470.7L882.1 471.3L883.1 470.4L884.2 471.8L885.2 469.9L886.3 470.4L887.3 471.7L888.4 470.2L889.4 470.9L890.5 472.2L891.5 472.2L892.6 471.1L893.6 470.6L894.7 471.1L895.7 472.0L896.8 470.9L897.8 470.1L898.9 471.6L899.9 471.1L901.0 472.0L902.0 471.9L903.1 471.8L904.1 470.3L905.2 470.9L906.2 470.5L907.3 470.8L908.3 471.2L909.4 472.2L910.4 472.4L911.5 471.5L912.5 471.4L913.6 471.2L914.6 470.9L915.7 470.7L916.7 470.5L917.8 470.0L918.8 471.2L919.9 472.2L920.9 472.5L922.0 472.9L923.0 472.4L924.1 471.7L925.1 472.4L926.2 472.2L927.2 469.9L928.3 468.0L929.3 467.6L930.4 469.4L931.4 471.2L932.5 472.1L933.5 470.4L934.6 469.4L935.6 467.6L936.7 470.2L937.7 472.4L938.8 471.6L939.8 471.1L940.9 471.6L941.9 471.4L943.0 469.8L944.0 471.0L945.1 470.7L946.1 472.0L947.2 472.2L948.2 471.4L949.3 471.1L950.3 471.7L951.4 471.2L952.4 470.6L953.5 468.3L954.5 466.5L955.6 469.0L956.6 469.8L957.7 466.2L958.7 465.1L959.8 468.6L960.8 470.3L961.9 469.3L962.9 467.2L964.0 467.9L965.0 469.6L966.1 471.3L967.1 469.7L968.2 468.2L969.2 466.7L970.3 467.2L971.3 469.5L972.4 470.4L973.4 469.1L974.5 467.6L975.5 467.6L976.6 469.4L977.6 469.8L978.7 465.6L979.7 460.9L980.8 462.8L981.8 467.8L982.9 468.2L983.9 468.0" fill="none" stroke="#2b3cc4" stroke-width="0.9"/>
<g font-size="7.8" fill="#444"><text x="307.4" y="480.4">Sep '23</text><text x="497.2" y="480.4">Jan '24</text><text x="646.2" y="480.4">Mar '24</text><text x="797" y="480.4">May '24</text><text x="947.9" y="480.4">Jul '24</text></g>
<rect x="909.6" y="454.4" width="74.7" height="29.2" fill="rgba(102,102,240,0.33)"/>
<path d="M984.3 454.4V483.6M909.6 454.4V483.6" stroke="#aaa" stroke-width="0.6"/>
<rect x="907.1" y="463.5" width="5" height="10.8" fill="#f2f2f2" stroke="#999" stroke-width="0.8"/><path d="M908.9 465.8v6.4M910.3 465.8v6.4" stroke="#888" stroke-width="0.7"/><rect x="981.8" y="463.5" width="5" height="10.8" fill="#f2f2f2" stroke="#999" stroke-width="0.8"/><path d="M983.6 465.8v6.4M985.0 465.8v6.4" stroke="#888" stroke-width="0.7"/>
<rect x="195.4" y="485.8" width="789.6" height="6.8" rx="3.4" fill="#fff" stroke="#ccc" stroke-width="0.8"/>
<rect x="909.6" y="485.8" width="75.4" height="6.8" rx="3.4" fill="#ccc"/>
</g>
<g>
<g filter="url(#sh)"><path d="M609.7 265h94.800a3 3 0 0 1 3 3v25.100a3 3 0 0 1-3 3h-43l-4.800 5.500-4.800-5.500h-42.200a3 3 0 0 1-3-3v-25.100a3 3 0 0 1 3-3z" fill="#fff"/></g>
<text x="613" y="277.5" font-size="7.2" fill="#333">Thursday, 4 Jul, 13:00</text>
<circle cx="614.8" cy="285.3" r="1.9" fill="#f5cb58"/>
<text x="620.9" y="288" font-size="9.05">production: <tspan font-weight="bold">30.3 kW</tspan></text>
</g>
<defs><filter id="sh" x="-10%" y="-20%" width="120%" height="150%"><feDropShadow dx="0.8" dy="0.8" stdDeviation="1.2" flood-color="#000" flood-opacity="0.4"/></filter></defs>
</svg>
</body></html>
